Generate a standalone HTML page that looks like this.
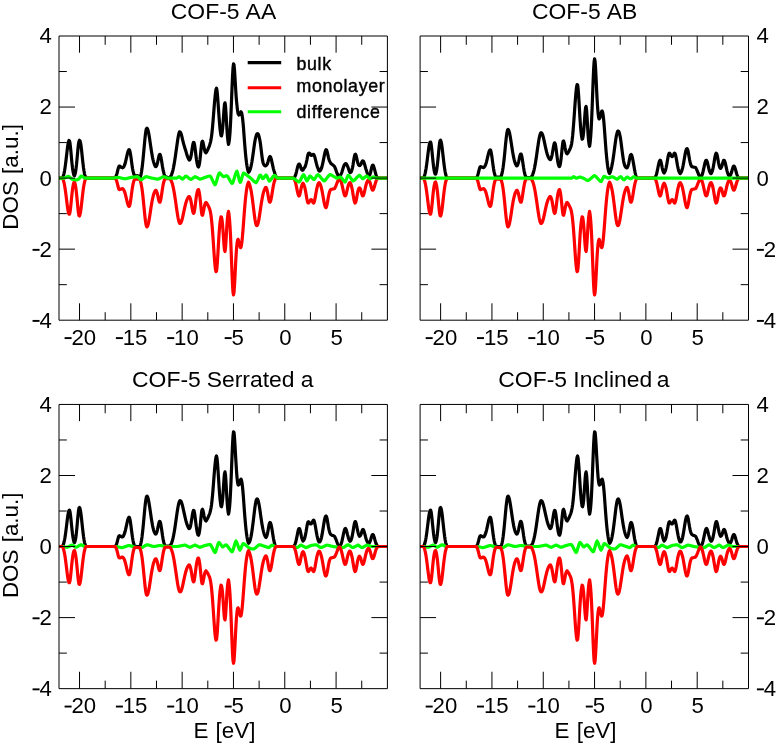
<!DOCTYPE html>
<html><head><meta charset="utf-8"><title>DOS</title>
<style>
html,body{margin:0;padding:0;background:#fff;}
body{width:778px;height:745px;overflow:hidden;font-family:"Liberation Sans",sans-serif;}
svg{display:block;position:absolute;left:0;top:0;will-change:transform;}
text{font-family:"Liberation Sans",sans-serif;fill:#000;}
.tk{font-size:22.2px;}
.ti{font-size:22.9px;word-spacing:1.0px;}
.ax{font-size:22.4px;word-spacing:1px;}
.lg{font-size:17.8px;letter-spacing:0.62px;stroke:#000;stroke-width:0.4px;}
.c{fill:none;stroke-width:3.2;stroke-linejoin:round;stroke-linecap:butt;}
.f{stroke:#000;stroke-width:1;fill:none;}
</style></head><body>
<svg width="778" height="745" viewBox="0 0 778 745">
<rect x="0" y="0" width="778" height="745" fill="#fff"/>

<clipPath id="cp0_0"><rect x="59.0" y="36.0" width="328.4" height="284.2"/></clipPath>
<g clip-path="url(#cp0_0)">
<path class="c" stroke="#000" d="M59.0 178.1 L59.5 178.1 L60.0 178.1 L60.5 178.1 L61.0 178.1 L61.5 178.1 L62.0 178.1 L62.5 177.8 L63.0 176.8 L63.5 175.4 L64.0 173.6 L64.5 171.1 L65.0 168.0 L65.5 164.4 L66.0 160.3 L66.5 156.0 L67.0 151.6 L67.5 147.5 L68.0 144.1 L68.5 141.6 L69.0 140.5 L69.5 140.9 L70.0 143.2 L70.5 147.4 L71.0 152.7 L71.5 158.3 L72.0 163.6 L72.5 167.9 L73.0 171.3 L73.5 173.8 L74.0 175.4 L74.5 175.7 L75.0 174.3 L75.5 172.1 L76.0 168.9 L76.5 164.7 L77.0 159.4 L77.5 153.8 L78.0 148.3 L78.5 143.9 L79.0 141.2 L79.5 140.3 L80.0 140.8 L80.5 142.6 L81.0 145.5 L81.5 149.6 L82.0 154.4 L82.5 159.1 L83.0 163.6 L83.5 167.7 L84.0 171.0 L84.5 173.8 L85.0 175.8 L85.5 177.2 L86.0 178.1 L86.5 178.1 L87.0 178.1 L87.5 178.1 L88.0 178.1 L88.5 178.1 L89.0 178.1 L89.5 178.1 L90.0 178.1 L90.5 178.1 L91.0 178.1 L91.5 178.1 L92.0 178.1 L92.5 178.1 L93.0 178.1 L93.5 178.1 L94.0 178.1 L94.5 178.1 L95.0 178.1 L95.5 178.1 L96.0 178.1 L96.5 178.1 L97.0 178.1 L97.5 178.1 L98.0 178.1 L98.5 178.1 L99.0 178.1 L99.5 178.1 L100.0 178.1 L100.5 178.1 L101.0 178.1 L101.5 178.1 L102.0 178.1 L102.5 178.1 L103.0 178.1 L103.5 178.1 L104.0 178.1 L104.5 178.1 L105.0 178.1 L105.5 178.1 L106.0 178.1 L106.5 178.1 L107.0 178.1 L107.5 178.1 L108.0 178.1 L108.5 178.1 L109.0 178.1 L109.5 178.1 L110.0 178.1 L110.5 178.1 L111.0 178.1 L111.5 178.1 L112.0 178.1 L112.5 178.1 L113.0 178.1 L113.5 178.1 L114.0 178.0 L114.5 177.9 L115.0 177.8 L115.5 177.3 L116.0 176.4 L116.5 175.1 L117.0 173.4 L117.5 171.3 L118.0 169.2 L118.5 167.5 L119.0 166.3 L119.5 166.1 L120.0 166.3 L120.5 166.7 L121.0 167.0 L121.5 167.4 L122.0 167.6 L122.5 167.8 L123.0 167.6 L123.5 167.1 L124.0 166.3 L124.5 165.3 L125.0 163.9 L125.5 162.0 L126.0 159.9 L126.5 157.7 L127.0 155.4 L127.5 153.3 L128.0 151.5 L128.5 150.2 L129.0 149.6 L129.5 149.9 L130.0 151.5 L130.5 154.2 L131.0 157.6 L131.5 161.3 L132.0 165.0 L132.5 168.2 L133.0 170.9 L133.5 173.0 L134.0 174.5 L134.5 175.5 L135.0 175.9 L135.5 175.8 L136.0 175.8 L136.5 175.8 L137.0 175.7 L137.5 175.7 L138.0 175.9 L138.5 176.3 L139.0 176.9 L139.5 177.5 L140.0 177.3 L140.5 176.4 L141.0 174.7 L141.5 172.0 L142.0 168.6 L142.5 164.5 L143.0 159.7 L143.5 154.4 L144.0 148.9 L144.5 143.3 L145.0 138.1 L145.5 133.7 L146.0 130.3 L146.5 128.5 L147.0 128.2 L147.5 128.8 L148.0 130.2 L148.5 132.3 L149.0 135.0 L149.5 138.1 L150.0 141.4 L150.5 144.9 L151.0 148.3 L151.5 151.6 L152.0 154.6 L152.5 157.3 L153.0 159.6 L153.5 161.6 L154.0 163.3 L154.5 164.7 L155.0 165.7 L155.5 166.6 L156.0 166.6 L156.5 165.9 L157.0 164.6 L157.5 162.8 L158.0 160.5 L158.5 158.0 L159.0 155.8 L159.5 154.5 L160.0 154.4 L160.5 155.5 L161.0 157.6 L161.5 160.4 L162.0 163.6 L162.5 166.7 L163.0 169.4 L163.5 171.7 L164.0 173.7 L164.5 175.2 L165.0 176.2 L165.5 176.7 L166.0 176.9 L166.5 177.1 L167.0 177.3 L167.5 177.4 L168.0 177.5 L168.5 177.5 L169.0 177.5 L169.5 177.5 L170.0 177.5 L170.5 176.8 L171.0 175.9 L171.5 174.8 L172.0 173.4 L172.5 171.8 L173.0 169.8 L173.5 167.5 L174.0 164.9 L174.5 161.9 L175.0 158.7 L175.5 155.4 L176.0 151.8 L176.5 148.3 L177.0 144.7 L177.5 141.2 L178.0 138.0 L178.5 135.2 L179.0 133.1 L179.5 131.9 L180.0 131.8 L180.5 132.3 L181.0 133.5 L181.5 135.1 L182.0 137.1 L182.5 139.4 L183.0 141.4 L183.5 143.3 L184.0 145.1 L184.5 146.8 L185.0 148.4 L185.5 150.0 L186.0 151.6 L186.5 153.4 L187.0 155.0 L187.5 156.5 L188.0 157.8 L188.5 158.9 L189.0 159.9 L189.5 160.1 L190.0 159.5 L190.5 158.2 L191.0 156.2 L191.5 153.2 L192.0 149.8 L192.5 146.4 L193.0 143.8 L193.5 142.4 L194.0 142.6 L194.5 144.5 L195.0 147.7 L195.5 151.8 L196.0 156.0 L196.5 159.7 L197.0 162.8 L197.5 165.0 L198.0 166.6 L198.5 167.0 L199.0 165.7 L199.5 163.3 L200.0 159.7 L200.5 154.8 L201.0 149.5 L201.5 144.8 L202.0 141.8 L202.5 141.2 L203.0 142.4 L203.5 144.8 L204.0 147.4 L204.5 149.8 L205.0 151.5 L205.5 152.5 L206.0 152.8 L206.5 152.1 L207.0 151.2 L207.5 150.2 L208.0 149.1 L208.5 148.0 L209.0 146.8 L209.5 145.6 L210.0 143.9 L210.5 142.1 L211.0 139.7 L211.5 136.6 L212.0 132.5 L212.5 127.5 L213.0 121.7 L213.5 115.4 L214.0 108.8 L214.5 102.7 L215.0 97.5 L215.5 92.7 L216.0 89.3 L216.5 88.2 L217.0 90.4 L217.5 95.3 L218.0 102.0 L218.5 109.4 L219.0 116.4 L219.5 122.8 L220.0 128.5 L220.5 132.6 L221.0 135.6 L221.5 135.9 L222.0 133.7 L222.5 129.8 L223.0 124.0 L223.5 116.8 L224.0 109.4 L224.5 104.3 L225.0 102.8 L225.5 106.1 L226.0 113.1 L226.5 121.8 L227.0 130.1 L227.5 136.8 L228.0 141.5 L228.5 144.5 L229.0 142.4 L229.5 138.6 L230.0 132.6 L230.5 124.1 L231.0 113.3 L231.5 101.0 L232.0 88.4 L232.5 76.8 L233.0 68.0 L233.5 63.9 L234.0 64.8 L234.5 69.9 L235.0 77.8 L235.5 86.5 L236.0 94.5 L236.5 100.8 L237.0 105.6 L237.5 110.3 L238.0 113.3 L238.5 114.5 L239.0 115.0 L239.5 114.7 L240.0 113.9 L240.5 112.6 L241.0 111.8 L241.5 112.4 L242.0 114.5 L242.5 117.9 L243.0 122.4 L243.5 128.0 L244.0 134.9 L244.5 141.6 L245.0 147.9 L245.5 153.6 L246.0 158.5 L246.5 162.7 L247.0 166.1 L247.5 168.8 L248.0 171.0 L248.5 172.3 L249.0 171.8 L249.5 171.0 L250.0 169.9 L250.5 168.3 L251.0 166.4 L251.5 164.0 L252.0 161.3 L252.5 158.1 L253.0 154.6 L253.5 151.0 L254.0 147.3 L254.5 143.8 L255.0 140.7 L255.5 138.2 L256.0 136.4 L256.5 134.8 L257.0 133.9 L257.5 133.6 L258.0 133.9 L258.5 134.8 L259.0 136.4 L259.5 138.5 L260.0 141.0 L260.5 144.3 L261.0 148.4 L261.5 152.5 L262.0 156.5 L262.5 159.9 L263.0 162.4 L263.5 163.9 L264.0 164.9 L264.5 165.5 L265.0 165.8 L265.5 165.9 L266.0 165.6 L266.5 165.2 L267.0 164.6 L267.5 163.5 L268.0 161.9 L268.5 160.0 L269.0 158.3 L269.5 157.1 L270.0 156.5 L270.5 156.9 L271.0 158.2 L271.5 160.0 L272.0 162.3 L272.5 164.7 L273.0 167.0 L273.5 169.1 L274.0 170.8 L274.5 172.3 L275.0 174.0 L275.5 175.4 L276.0 176.7 L276.5 177.3 L277.0 177.8 L277.5 178.1 L278.0 178.1 L278.5 178.1 L279.0 178.1 L279.5 178.1 L280.0 178.1 L280.5 178.1 L281.0 178.1 L281.5 178.1 L282.0 178.1 L282.5 178.1 L283.0 178.1 L283.5 178.1 L284.0 178.1 L284.5 178.1 L285.0 178.1 L285.5 178.1 L286.0 178.1 L286.5 178.1 L287.0 178.1 L287.5 178.1 L288.0 178.1 L288.5 178.1 L289.0 178.1 L289.5 178.1 L290.0 178.1 L290.5 178.1 L291.0 178.1 L291.5 178.1 L292.0 178.1 L292.5 178.1 L293.0 178.1 L293.5 178.1 L294.0 177.9 L294.5 177.3 L295.0 176.4 L295.5 175.2 L296.0 173.5 L296.5 171.6 L297.0 169.5 L297.5 167.4 L298.0 165.7 L298.5 164.5 L299.0 164.1 L299.5 164.1 L300.0 165.1 L300.5 166.6 L301.0 168.2 L301.5 169.4 L302.0 170.1 L302.5 170.3 L303.0 170.1 L303.5 168.9 L304.0 168.3 L304.5 167.7 L305.0 166.9 L305.5 165.6 L306.0 163.9 L306.5 161.8 L307.0 159.5 L307.5 156.7 L308.0 154.6 L308.5 153.4 L309.0 153.1 L309.5 153.3 L310.0 153.6 L310.5 154.5 L311.0 155.2 L311.5 155.4 L312.0 155.3 L312.5 154.8 L313.0 154.3 L313.5 154.3 L314.0 155.0 L314.5 156.1 L315.0 157.7 L315.5 159.8 L316.0 161.9 L316.5 163.9 L317.0 165.7 L317.5 167.1 L318.0 168.4 L318.5 169.8 L319.0 170.9 L319.5 171.1 L320.0 170.8 L320.5 170.3 L321.0 169.4 L321.5 168.2 L322.0 166.5 L322.5 164.4 L323.0 162.1 L323.5 159.6 L324.0 157.1 L324.5 154.6 L325.0 152.3 L325.5 150.6 L326.0 149.7 L326.5 149.9 L327.0 151.2 L327.5 153.2 L328.0 155.4 L328.5 157.6 L329.0 159.5 L329.5 160.9 L330.0 161.9 L330.5 162.9 L331.0 163.6 L331.5 163.9 L332.0 164.3 L332.5 164.7 L333.0 165.1 L333.5 165.5 L334.0 165.9 L334.5 166.5 L335.0 167.6 L335.5 168.9 L336.0 170.3 L336.5 171.7 L337.0 173.2 L337.5 174.3 L338.0 175.3 L338.5 176.2 L339.0 176.8 L339.5 176.8 L340.0 176.1 L340.5 175.1 L341.0 174.2 L341.5 173.1 L342.0 171.8 L342.5 170.2 L343.0 168.6 L343.5 166.9 L344.0 165.5 L344.5 164.6 L345.0 164.2 L345.5 163.6 L346.0 163.6 L346.5 164.2 L347.0 165.1 L347.5 166.2 L348.0 167.3 L348.5 168.7 L349.0 170.3 L349.5 171.6 L350.0 172.6 L350.5 172.5 L351.0 172.1 L351.5 171.2 L352.0 169.7 L352.5 167.6 L353.0 165.0 L353.5 161.8 L354.0 158.6 L354.5 156.1 L355.0 154.6 L355.5 154.2 L356.0 155.2 L356.5 157.1 L357.0 159.5 L357.5 161.7 L358.0 163.5 L358.5 164.7 L359.0 165.4 L359.5 165.6 L360.0 165.4 L360.5 164.9 L361.0 164.1 L361.5 162.8 L362.0 161.6 L362.5 160.9 L363.0 160.9 L363.5 161.3 L364.0 162.4 L364.5 164.0 L365.0 165.8 L365.5 167.6 L366.0 169.3 L366.5 170.7 L367.0 172.3 L367.5 173.7 L368.0 174.9 L368.5 175.7 L369.0 175.7 L369.5 175.3 L370.0 174.4 L370.5 172.6 L371.0 170.4 L371.5 168.2 L372.0 166.3 L372.5 165.2 L373.0 165.1 L373.5 165.9 L374.0 167.4 L374.5 169.2 L375.0 171.2 L375.5 173.1 L376.0 174.7 L376.5 176.1 L377.0 177.1 L377.5 177.7 L378.0 178.1 L378.5 178.1 L379.0 178.1 L379.5 178.1 L380.0 178.1 L380.5 178.1 L381.0 178.1 L381.5 178.1 L382.0 178.1 L382.5 178.1 L383.0 178.1 L383.5 178.1 L384.0 178.1 L384.5 178.1 L385.0 178.1 L385.5 178.1 L386.0 178.1 L386.5 178.1 L387.0 178.1"/>
<path class="c" stroke="#f00" d="M59.0 178.1 L59.5 178.1 L60.0 178.1 L60.5 178.1 L61.0 178.1 L61.5 178.1 L62.0 178.1 L62.5 178.4 L63.0 179.4 L63.5 180.8 L64.0 182.6 L64.5 185.0 L65.0 187.9 L65.5 191.3 L66.0 195.1 L66.5 199.2 L67.0 203.3 L67.5 207.2 L68.0 210.4 L68.5 212.9 L69.0 214.2 L69.5 214.2 L70.0 212.3 L70.5 208.6 L71.0 203.8 L71.5 198.6 L72.0 193.7 L72.5 189.4 L73.0 186.1 L73.5 183.8 L74.0 182.2 L74.5 182.0 L75.0 183.5 L75.5 185.8 L76.0 189.1 L76.5 193.3 L77.0 198.4 L77.5 203.9 L78.0 209.1 L78.5 213.3 L79.0 215.7 L79.5 216.0 L80.0 214.7 L80.5 212.2 L81.0 208.7 L81.5 204.5 L82.0 200.0 L82.5 195.6 L83.0 191.4 L83.5 187.8 L84.0 184.7 L84.5 182.2 L85.0 180.4 L85.5 179.0 L86.0 178.1 L86.5 178.1 L87.0 178.1 L87.5 178.1 L88.0 178.1 L88.5 178.1 L89.0 178.1 L89.5 178.1 L90.0 178.1 L90.5 178.1 L91.0 178.1 L91.5 178.1 L92.0 178.1 L92.5 178.1 L93.0 178.1 L93.5 178.1 L94.0 178.1 L94.5 178.1 L95.0 178.1 L95.5 178.1 L96.0 178.1 L96.5 178.1 L97.0 178.1 L97.5 178.1 L98.0 178.1 L98.5 178.1 L99.0 178.1 L99.5 178.1 L100.0 178.1 L100.5 178.1 L101.0 178.1 L101.5 178.1 L102.0 178.1 L102.5 178.1 L103.0 178.1 L103.5 178.1 L104.0 178.1 L104.5 178.1 L105.0 178.1 L105.5 178.1 L106.0 178.1 L106.5 178.1 L107.0 178.1 L107.5 178.1 L108.0 178.1 L108.5 178.1 L109.0 178.1 L109.5 178.1 L110.0 178.1 L110.5 178.1 L111.0 178.1 L111.5 178.1 L112.0 178.1 L112.5 178.1 L113.0 178.1 L113.5 178.1 L114.0 178.1 L114.5 178.1 L115.0 178.1 L115.5 178.6 L116.0 179.4 L116.5 180.6 L117.0 182.2 L117.5 184.2 L118.0 186.3 L118.5 188.1 L119.0 189.3 L119.5 189.6 L120.0 189.5 L120.5 189.3 L121.0 189.0 L121.5 188.8 L122.0 188.7 L122.5 188.6 L123.0 189.0 L123.5 189.6 L124.0 190.4 L124.5 191.6 L125.0 193.0 L125.5 194.8 L126.0 196.8 L126.5 199.0 L127.0 201.1 L127.5 203.1 L128.0 204.8 L128.5 205.9 L129.0 206.4 L129.5 206.0 L130.0 204.2 L130.5 201.4 L131.0 197.9 L131.5 194.1 L132.0 190.4 L132.5 187.1 L133.0 184.3 L133.5 182.2 L134.0 180.6 L134.5 179.6 L135.0 179.1 L135.5 179.1 L136.0 179.1 L136.5 179.1 L137.0 179.1 L137.5 179.1 L138.0 179.1 L138.5 179.1 L139.0 179.1 L139.5 179.1 L140.0 179.9 L140.5 181.3 L141.0 183.2 L141.5 185.7 L142.0 188.8 L142.5 192.6 L143.0 197.0 L143.5 201.9 L144.0 207.1 L144.5 212.3 L145.0 217.1 L145.5 221.3 L146.0 224.4 L146.5 226.3 L147.0 226.8 L147.5 226.2 L148.0 224.9 L148.5 223.0 L149.0 220.4 L149.5 217.5 L150.0 214.3 L150.5 210.9 L151.0 207.6 L151.5 204.5 L152.0 201.6 L152.5 199.0 L153.0 196.8 L153.5 194.9 L154.0 193.3 L154.5 192.1 L155.0 191.1 L155.5 190.3 L156.0 190.4 L156.5 191.2 L157.0 192.5 L157.5 194.4 L158.0 196.7 L158.5 199.1 L159.0 201.1 L159.5 202.2 L160.0 202.1 L160.5 200.7 L161.0 198.3 L161.5 195.2 L162.0 191.8 L162.5 188.4 L163.0 185.5 L163.5 183.0 L164.0 181.2 L164.5 179.8 L165.0 179.0 L165.5 178.7 L166.0 178.7 L166.5 178.7 L167.0 178.7 L167.5 178.7 L168.0 178.7 L168.5 178.7 L169.0 178.7 L169.5 178.7 L170.0 178.7 L170.5 179.4 L171.0 180.3 L171.5 181.4 L172.0 182.8 L172.5 184.4 L173.0 186.4 L173.5 188.7 L174.0 191.3 L174.5 194.3 L175.0 197.5 L175.5 200.8 L176.0 204.4 L176.5 207.9 L177.0 211.3 L177.5 214.6 L178.0 217.5 L178.5 219.9 L179.0 221.8 L179.5 223.0 L180.0 223.5 L180.5 223.3 L181.0 222.6 L181.5 221.4 L182.0 219.8 L182.5 217.8 L183.0 215.6 L183.5 213.3 L184.0 210.9 L184.5 208.6 L185.0 206.4 L185.5 204.3 L186.0 202.5 L186.5 201.0 L187.0 199.6 L187.5 198.6 L188.0 197.7 L188.5 197.0 L189.0 196.5 L189.5 196.7 L190.0 197.7 L190.5 199.2 L191.0 201.4 L191.5 204.2 L192.0 207.2 L192.5 210.2 L193.0 212.4 L193.5 213.4 L194.0 212.8 L194.5 210.6 L195.0 207.2 L195.5 203.1 L196.0 199.1 L196.5 195.6 L197.0 192.9 L197.5 191.0 L198.0 189.7 L198.5 189.6 L199.0 191.2 L199.5 193.8 L200.0 197.6 L200.5 202.4 L201.0 207.6 L201.5 212.1 L202.0 214.9 L202.5 215.3 L203.0 213.8 L203.5 211.3 L204.0 208.4 L204.5 205.9 L205.0 204.0 L205.5 202.8 L206.0 202.4 L206.5 202.9 L207.0 203.6 L207.5 204.5 L208.0 205.4 L208.5 206.4 L209.0 207.5 L209.5 208.6 L210.0 210.2 L210.5 212.4 L211.0 215.5 L211.5 219.6 L212.0 224.7 L212.5 230.7 L213.0 237.7 L213.5 245.1 L214.0 252.6 L214.5 259.5 L215.0 265.4 L215.5 269.5 L216.0 271.6 L216.5 271.1 L217.0 267.2 L217.5 260.5 L218.0 252.1 L218.5 243.2 L219.0 235.0 L219.5 228.1 L220.0 222.9 L220.5 219.2 L221.0 216.8 L221.5 217.1 L222.0 219.8 L222.5 224.2 L223.0 230.5 L223.5 238.0 L224.0 245.2 L224.5 250.2 L225.0 251.5 L225.5 248.0 L226.0 240.8 L226.5 232.0 L227.0 223.8 L227.5 217.6 L228.0 213.6 L228.5 211.4 L229.0 214.4 L229.5 219.1 L230.0 226.0 L230.5 235.4 L231.0 247.0 L231.5 260.0 L232.0 273.1 L232.5 284.4 L233.0 292.2 L233.5 294.9 L234.0 292.4 L234.5 285.7 L235.0 276.1 L235.5 265.8 L236.0 256.5 L236.5 249.0 L237.0 243.7 L237.5 240.4 L238.0 239.3 L238.5 240.2 L239.0 241.9 L239.5 244.2 L240.0 246.5 L240.5 247.7 L241.0 247.1 L241.5 244.8 L242.0 241.0 L242.5 235.9 L243.0 229.8 L243.5 223.3 L244.0 216.5 L244.5 210.0 L245.0 204.0 L245.5 198.7 L246.0 194.1 L246.5 190.3 L247.0 187.2 L247.5 184.9 L248.0 183.2 L248.5 182.2 L249.0 183.1 L249.5 184.3 L250.0 185.8 L250.5 187.8 L251.0 190.1 L251.5 193.0 L252.0 196.2 L252.5 199.9 L253.0 203.9 L253.5 208.0 L254.0 212.1 L254.5 216.0 L255.0 219.5 L255.5 222.3 L256.0 224.4 L256.5 225.5 L257.0 225.6 L257.5 224.9 L258.0 223.5 L258.5 221.4 L259.0 218.7 L259.5 215.7 L260.0 212.3 L260.5 208.9 L261.0 205.6 L261.5 202.3 L262.0 199.4 L262.5 196.7 L263.0 194.4 L263.5 192.4 L264.0 190.7 L264.5 189.4 L265.0 188.4 L265.5 187.6 L266.0 187.4 L266.5 188.3 L267.0 189.8 L267.5 192.0 L268.0 194.8 L268.5 197.8 L269.0 200.4 L269.5 202.0 L270.0 202.2 L270.5 201.3 L271.0 199.4 L271.5 196.9 L272.0 193.9 L272.5 190.8 L273.0 187.8 L273.5 185.1 L274.0 182.9 L274.5 181.1 L275.0 179.7 L275.5 178.8 L276.0 178.1 L276.5 178.1 L277.0 178.1 L277.5 178.1 L278.0 178.1 L278.5 178.1 L279.0 178.1 L279.5 178.1 L280.0 178.1 L280.5 178.1 L281.0 178.1 L281.5 178.1 L282.0 178.1 L282.5 178.1 L283.0 178.1 L283.5 178.1 L284.0 178.1 L284.5 178.1 L285.0 178.1 L285.5 178.1 L286.0 178.1 L286.5 178.1 L287.0 178.1 L287.5 178.1 L288.0 178.1 L288.5 178.1 L289.0 178.1 L289.5 178.1 L290.0 178.1 L290.5 178.1 L291.0 178.1 L291.5 178.1 L292.0 178.1 L292.5 178.1 L293.0 178.1 L293.5 178.2 L294.0 178.8 L294.5 179.7 L295.0 180.9 L295.5 182.5 L296.0 184.6 L296.5 186.9 L297.0 189.4 L297.5 191.8 L298.0 193.9 L298.5 195.3 L299.0 196.0 L299.5 195.6 L300.0 193.9 L300.5 191.5 L301.0 188.9 L301.5 186.6 L302.0 184.9 L302.5 183.8 L303.0 183.2 L303.5 183.9 L304.0 184.9 L304.5 186.4 L305.0 188.4 L305.5 190.8 L306.0 193.7 L306.5 196.7 L307.0 199.5 L307.5 201.6 L308.0 202.9 L308.5 203.0 L309.0 202.4 L309.5 201.4 L310.0 200.5 L310.5 199.9 L311.0 199.6 L311.5 199.9 L312.0 200.6 L312.5 201.6 L313.0 202.7 L313.5 203.1 L314.0 202.6 L314.5 201.0 L315.0 198.7 L315.5 195.9 L316.0 193.0 L316.5 190.2 L317.0 187.8 L317.5 185.8 L318.0 184.3 L318.5 183.3 L319.0 182.6 L319.5 183.0 L320.0 183.8 L320.5 184.9 L321.0 186.4 L321.5 188.3 L322.0 190.6 L322.5 193.2 L323.0 196.1 L323.5 199.0 L324.0 201.8 L324.5 204.3 L325.0 206.2 L325.5 207.3 L326.0 207.6 L326.5 206.7 L327.0 204.8 L327.5 202.1 L328.0 199.2 L328.5 196.4 L329.0 194.0 L329.5 192.1 L330.0 190.7 L330.5 189.9 L331.0 189.4 L331.5 189.3 L332.0 189.2 L332.5 189.1 L333.0 189.0 L333.5 188.9 L334.0 188.8 L334.5 188.6 L335.0 187.8 L335.5 186.8 L336.0 185.6 L336.5 184.3 L337.0 183.0 L337.5 181.8 L338.0 180.6 L338.5 179.6 L339.0 178.8 L339.5 178.6 L340.0 179.2 L340.5 180.1 L341.0 181.3 L341.5 182.9 L342.0 184.8 L342.5 187.0 L343.0 189.4 L343.5 191.7 L344.0 193.7 L344.5 195.2 L345.0 195.9 L345.5 195.8 L346.0 194.8 L346.5 192.9 L347.0 190.7 L347.5 188.5 L348.0 186.4 L348.5 184.8 L349.0 183.7 L349.5 182.9 L350.0 182.6 L350.5 183.4 L351.0 184.5 L351.5 186.1 L352.0 188.3 L352.5 191.0 L353.0 194.0 L353.5 197.1 L354.0 199.9 L354.5 201.9 L355.0 203.0 L355.5 202.8 L356.0 201.3 L356.5 198.9 L357.0 196.0 L357.5 193.2 L358.0 190.9 L358.5 189.3 L359.0 188.2 L359.5 187.8 L360.0 188.3 L360.5 189.3 L361.0 190.9 L361.5 192.8 L362.0 194.6 L362.5 195.8 L363.0 195.9 L363.5 195.2 L364.0 193.7 L364.5 191.7 L365.0 189.5 L365.5 187.2 L366.0 185.1 L366.5 183.4 L367.0 182.0 L367.5 181.0 L368.0 180.3 L368.5 180.0 L369.0 180.5 L369.5 181.3 L370.0 182.5 L370.5 184.1 L371.0 186.0 L371.5 187.8 L372.0 189.3 L372.5 190.1 L373.0 190.1 L373.5 189.3 L374.0 188.0 L374.5 186.3 L375.0 184.5 L375.5 182.7 L376.0 181.2 L376.5 180.0 L377.0 179.1 L377.5 178.5 L378.0 178.1 L378.5 178.1 L379.0 178.1 L379.5 178.1 L380.0 178.1 L380.5 178.1 L381.0 178.1 L381.5 178.1 L382.0 178.1 L382.5 178.1 L383.0 178.1 L383.5 178.1 L384.0 178.1 L384.5 178.1 L385.0 178.1 L385.5 178.1 L386.0 178.1 L386.5 178.1 L387.0 178.1"/>
<path class="c" stroke="#0f0" d="M59.0 178.1 L59.5 178.1 L60.0 178.1 L60.5 178.1 L61.0 178.1 L61.5 178.1 L62.0 178.1 L62.5 178.1 L63.0 178.1 L63.5 178.1 L64.0 178.1 L64.5 178.0 L65.0 177.8 L65.5 177.6 L66.0 177.3 L66.5 177.1 L67.0 176.9 L67.5 176.6 L68.0 176.5 L68.5 176.3 L69.0 176.6 L69.5 177.0 L70.0 177.4 L70.5 177.9 L71.0 178.4 L71.5 178.8 L72.0 179.2 L72.5 179.3 L73.0 179.4 L73.5 179.5 L74.0 179.6 L74.5 179.6 L75.0 179.7 L75.5 179.8 L76.0 179.8 L76.5 179.9 L77.0 179.7 L77.5 179.6 L78.0 179.3 L78.5 179.1 L79.0 178.8 L79.5 178.2 L80.0 177.5 L80.5 176.7 L81.0 176.1 L81.5 176.1 L82.0 176.3 L82.5 176.6 L83.0 177.0 L83.5 177.3 L84.0 177.6 L84.5 177.9 L85.0 178.1 L85.5 178.1 L86.0 178.1 L86.5 178.1 L87.0 178.1 L87.5 178.1 L88.0 178.1 L88.5 178.1 L89.0 178.1 L89.5 178.1 L90.0 178.1 L90.5 178.1 L91.0 178.1 L91.5 178.1 L92.0 178.1 L92.5 178.1 L93.0 178.1 L93.5 178.1 L94.0 178.1 L94.5 178.1 L95.0 178.1 L95.5 178.1 L96.0 178.1 L96.5 178.1 L97.0 178.1 L97.5 178.1 L98.0 178.1 L98.5 178.1 L99.0 178.1 L99.5 178.1 L100.0 178.1 L100.5 178.1 L101.0 178.1 L101.5 178.1 L102.0 178.1 L102.5 178.1 L103.0 178.1 L103.5 178.1 L104.0 178.1 L104.5 178.1 L105.0 178.1 L105.5 178.1 L106.0 178.1 L106.5 178.1 L107.0 178.1 L107.5 178.1 L108.0 178.1 L108.5 178.1 L109.0 178.1 L109.5 178.1 L110.0 178.1 L110.5 178.1 L111.0 178.1 L111.5 178.1 L112.0 178.1 L112.5 178.1 L113.0 178.1 L113.5 178.1 L114.0 178.0 L114.5 177.9 L115.0 177.8 L115.5 177.7 L116.0 177.7 L116.5 177.6 L117.0 177.5 L117.5 177.4 L118.0 177.4 L118.5 177.5 L119.0 177.5 L119.5 177.6 L120.0 177.7 L120.5 177.9 L121.0 178.0 L121.5 178.1 L122.0 178.2 L122.5 178.3 L123.0 178.5 L123.5 178.6 L124.0 178.7 L124.5 178.7 L125.0 178.8 L125.5 178.7 L126.0 178.6 L126.5 178.5 L127.0 178.4 L127.5 178.3 L128.0 178.2 L128.5 178.0 L129.0 177.9 L129.5 177.7 L130.0 177.6 L130.5 177.5 L131.0 177.4 L131.5 177.3 L132.0 177.3 L132.5 177.2 L133.0 177.1 L133.5 177.1 L134.0 177.0 L134.5 177.0 L135.0 176.9 L135.5 176.8 L136.0 176.8 L136.5 176.8 L137.0 176.7 L137.5 176.7 L138.0 176.9 L138.5 177.3 L139.0 177.9 L139.5 178.5 L140.0 179.1 L140.5 179.6 L141.0 179.8 L141.5 179.6 L142.0 179.3 L142.5 179.0 L143.0 178.6 L143.5 178.2 L144.0 177.9 L144.5 177.5 L145.0 177.2 L145.5 176.9 L146.0 176.7 L146.5 176.7 L147.0 176.8 L147.5 176.9 L148.0 177.1 L148.5 177.2 L149.0 177.3 L149.5 177.5 L150.0 177.6 L150.5 177.7 L151.0 177.9 L151.5 178.0 L152.0 178.1 L152.5 178.2 L153.0 178.3 L153.5 178.4 L154.0 178.5 L154.5 178.6 L155.0 178.7 L155.5 178.8 L156.0 178.9 L156.5 179.0 L157.0 179.1 L157.5 179.1 L158.0 179.2 L158.5 179.0 L159.0 178.8 L159.5 178.6 L160.0 178.3 L160.5 178.1 L161.0 177.8 L161.5 177.5 L162.0 177.2 L162.5 177.0 L163.0 176.8 L163.5 176.7 L164.0 176.8 L164.5 176.9 L165.0 177.1 L165.5 177.3 L166.0 177.5 L166.5 177.7 L167.0 177.9 L167.5 178.0 L168.0 178.1 L168.5 178.1 L169.0 178.1 L169.5 178.1 L170.0 178.1 L170.5 178.1 L171.0 178.1 L171.5 178.1 L172.0 178.1 L172.5 178.1 L173.0 178.1 L173.5 178.1 L174.0 178.1 L174.5 178.1 L175.0 178.1 L175.5 178.1 L176.0 178.1 L176.5 178.1 L177.0 178.0 L177.5 177.7 L178.0 177.4 L178.5 177.0 L179.0 176.7 L179.5 176.8 L180.0 177.1 L180.5 177.6 L181.0 178.0 L181.5 178.5 L182.0 178.8 L182.5 179.1 L183.0 178.9 L183.5 178.4 L184.0 177.9 L184.5 177.3 L185.0 176.7 L185.5 176.2 L186.0 176.0 L186.5 176.3 L187.0 176.6 L187.5 177.0 L188.0 177.4 L188.5 177.8 L189.0 178.3 L189.5 178.7 L190.0 179.0 L190.5 179.3 L191.0 179.5 L191.5 179.2 L192.0 178.9 L192.5 178.5 L193.0 178.1 L193.5 177.7 L194.0 177.3 L194.5 177.0 L195.0 176.7 L195.5 176.8 L196.0 177.0 L196.5 177.3 L197.0 177.6 L197.5 177.9 L198.0 178.2 L198.5 178.5 L199.0 178.7 L199.5 179.0 L200.0 179.1 L200.5 179.1 L201.0 178.9 L201.5 178.8 L202.0 178.6 L202.5 178.4 L203.0 178.2 L203.5 178.0 L204.0 177.8 L204.5 177.6 L205.0 177.4 L205.5 177.2 L206.0 177.1 L206.5 176.9 L207.0 176.8 L207.5 176.6 L208.0 176.4 L208.5 176.3 L209.0 176.2 L209.5 176.1 L210.0 176.0 L210.5 176.4 L211.0 177.1 L211.5 178.1 L212.0 179.1 L212.5 180.2 L213.0 181.3 L213.5 182.4 L214.0 183.3 L214.5 184.1 L215.0 184.8 L215.5 184.1 L216.0 182.8 L216.5 181.3 L217.0 179.5 L217.5 177.7 L218.0 176.0 L218.5 174.5 L219.0 173.3 L219.5 172.9 L220.0 173.2 L220.5 173.7 L221.0 174.3 L221.5 174.8 L222.0 175.4 L222.5 175.9 L223.0 176.4 L223.5 176.7 L224.0 176.6 L224.5 176.4 L225.0 176.2 L225.5 176.0 L226.0 175.8 L226.5 175.7 L227.0 175.8 L227.5 176.3 L228.0 177.0 L228.5 177.8 L229.0 178.7 L229.5 179.6 L230.0 180.5 L230.5 181.4 L231.0 182.2 L231.5 182.9 L232.0 183.4 L232.5 183.1 L233.0 182.0 L233.5 180.7 L234.0 179.1 L234.5 177.5 L235.0 175.8 L235.5 174.2 L236.0 172.8 L236.5 171.7 L237.0 171.2 L237.5 172.6 L238.0 174.5 L238.5 176.6 L239.0 178.8 L239.5 180.8 L240.0 182.3 L240.5 182.2 L241.0 180.8 L241.5 179.2 L242.0 177.4 L242.5 175.6 L243.0 174.2 L243.5 173.1 L244.0 173.3 L244.5 173.6 L245.0 173.8 L245.5 174.2 L246.0 174.5 L246.5 174.9 L247.0 175.2 L247.5 175.6 L248.0 176.0 L248.5 176.4 L249.0 176.8 L249.5 177.2 L250.0 177.6 L250.5 178.0 L251.0 178.4 L251.5 178.9 L252.0 179.4 L252.5 179.9 L253.0 180.4 L253.5 180.8 L254.0 181.3 L254.5 181.7 L255.0 182.1 L255.5 182.4 L256.0 182.7 L256.5 182.2 L257.0 181.4 L257.5 180.4 L258.0 179.3 L258.5 178.1 L259.0 177.0 L259.5 176.0 L260.0 175.2 L260.5 175.1 L261.0 175.8 L261.5 176.8 L262.0 177.7 L262.5 178.5 L263.0 178.7 L263.5 178.2 L264.0 177.5 L264.5 176.8 L265.0 176.1 L265.5 175.4 L266.0 175.0 L266.5 175.4 L267.0 176.3 L267.5 177.4 L268.0 178.6 L268.5 179.7 L269.0 180.6 L269.5 181.1 L270.0 180.7 L270.5 180.1 L271.0 179.5 L271.5 178.8 L272.0 178.1 L272.5 177.4 L273.0 176.7 L273.5 176.1 L274.0 175.6 L274.5 175.3 L275.0 175.6 L275.5 176.1 L276.0 176.7 L276.5 177.3 L277.0 177.8 L277.5 178.1 L278.0 178.1 L278.5 178.1 L279.0 178.1 L279.5 178.1 L280.0 178.1 L280.5 178.1 L281.0 178.1 L281.5 178.1 L282.0 178.1 L282.5 178.1 L283.0 178.1 L283.5 178.1 L284.0 178.1 L284.5 178.1 L285.0 178.1 L285.5 178.1 L286.0 178.1 L286.5 178.1 L287.0 178.1 L287.5 178.1 L288.0 178.1 L288.5 178.1 L289.0 178.1 L289.5 178.1 L290.0 178.1 L290.5 178.1 L291.0 178.1 L291.5 178.1 L292.0 178.1 L292.5 178.1 L293.0 178.1 L293.5 178.3 L294.0 178.6 L294.5 178.9 L295.0 179.2 L295.5 179.6 L296.0 180.0 L296.5 180.4 L297.0 180.8 L297.5 181.2 L298.0 181.5 L298.5 181.8 L299.0 182.0 L299.5 181.6 L300.0 180.9 L300.5 180.0 L301.0 179.0 L301.5 178.0 L302.0 177.0 L302.5 176.0 L303.0 175.2 L303.5 174.6 L304.0 175.1 L304.5 176.0 L305.0 177.1 L305.5 178.3 L306.0 179.5 L306.5 180.4 L307.0 180.9 L307.5 180.2 L308.0 179.3 L308.5 178.4 L309.0 177.4 L309.5 176.5 L310.0 176.0 L310.5 176.3 L311.0 176.7 L311.5 177.2 L312.0 177.8 L312.5 178.4 L313.0 178.9 L313.5 179.3 L314.0 179.5 L314.5 179.0 L315.0 178.3 L315.5 177.6 L316.0 176.8 L316.5 176.0 L317.0 175.3 L317.5 174.8 L318.0 174.7 L318.5 175.0 L319.0 175.4 L319.5 176.0 L320.0 176.5 L320.5 177.1 L321.0 177.7 L321.5 178.4 L322.0 179.0 L322.5 179.5 L323.0 180.0 L323.5 180.5 L324.0 180.8 L324.5 180.8 L325.0 180.3 L325.5 179.8 L326.0 179.2 L326.5 178.6 L327.0 177.9 L327.5 177.2 L328.0 176.5 L328.5 175.9 L329.0 175.4 L329.5 174.9 L330.0 174.5 L330.5 174.7 L331.0 174.9 L331.5 175.1 L332.0 175.4 L332.5 175.7 L333.0 176.0 L333.5 176.3 L334.0 176.6 L334.5 176.9 L335.0 177.2 L335.5 177.5 L336.0 177.7 L336.5 177.9 L337.0 178.1 L337.5 178.0 L338.0 177.8 L338.5 177.7 L339.0 177.5 L339.5 177.3 L340.0 177.1 L340.5 177.0 L341.0 177.4 L341.5 177.9 L342.0 178.5 L342.5 179.2 L343.0 179.9 L343.5 180.5 L344.0 181.1 L344.5 181.6 L345.0 182.0 L345.5 181.3 L346.0 180.2 L346.5 179.0 L347.0 177.7 L347.5 176.6 L348.0 175.6 L348.5 175.4 L349.0 175.8 L349.5 176.4 L350.0 177.1 L350.5 177.8 L351.0 178.5 L351.5 179.3 L352.0 179.9 L352.5 180.5 L353.0 180.9 L353.5 180.7 L354.0 180.4 L354.5 180.0 L355.0 179.5 L355.5 179.0 L356.0 178.4 L356.5 177.9 L357.0 177.3 L357.5 176.8 L358.0 176.3 L358.5 175.9 L359.0 175.5 L359.5 175.3 L360.0 175.6 L360.5 176.2 L361.0 176.8 L361.5 177.5 L362.0 178.1 L362.5 178.6 L363.0 178.7 L363.5 178.4 L364.0 178.0 L364.5 177.6 L365.0 177.1 L365.5 176.7 L366.0 176.3 L366.5 176.0 L367.0 176.2 L367.5 176.6 L368.0 177.1 L368.5 177.6 L369.0 178.1 L369.5 178.5 L370.0 178.8 L370.5 178.6 L371.0 178.3 L371.5 177.9 L372.0 177.6 L372.5 177.2 L373.0 177.0 L373.5 177.1 L374.0 177.3 L374.5 177.4 L375.0 177.6 L375.5 177.7 L376.0 177.9 L376.5 178.0 L377.0 178.1 L377.5 178.1 L378.0 178.1 L378.5 178.1 L379.0 178.1 L379.5 178.1 L380.0 178.1 L380.5 178.1 L381.0 178.1 L381.5 178.1 L382.0 178.1 L382.5 178.1 L383.0 178.1 L383.5 178.1 L384.0 178.1 L384.5 178.1 L385.0 178.1 L385.5 178.1 L386.0 178.1 L386.5 178.1 L387.0 178.1"/>
</g>
<line x1="247.7" x2="281.2" y1="62.6" y2="62.6" stroke="#000" stroke-width="3.1"/>
<text class="lg" x="296.6" y="69.5">bulk</text>
<line x1="247.7" x2="281.2" y1="87.7" y2="87.7" stroke="#f00" stroke-width="3.1"/>
<text class="lg" x="296.6" y="91.8">monolayer</text>
<line x1="247.7" x2="281.2" y1="111.7" y2="111.7" stroke="#0f0" stroke-width="3.1"/>
<text class="lg" x="296.6" y="118.4">difference</text>
<path class="f" d="M59.00 36.00 h328.40 v284.20 h-328.40 Z M79.53 36.00 v16.70 M79.53 320.20 v-16.90 M105.18 36.00 v8.80 M105.18 320.20 v-8.00 M130.84 36.00 v16.70 M130.84 320.20 v-16.90 M156.49 36.00 v8.80 M156.49 320.20 v-8.00 M182.15 36.00 v16.70 M182.15 320.20 v-16.90 M207.81 36.00 v8.80 M207.81 320.20 v-8.00 M233.46 36.00 v16.70 M233.46 320.20 v-16.90 M259.12 36.00 v8.80 M259.12 320.20 v-8.00 M284.77 36.00 v16.70 M284.77 320.20 v-16.90 M310.43 36.00 v8.80 M310.43 320.20 v-8.00 M336.09 36.00 v16.70 M336.09 320.20 v-16.90 M361.74 36.00 v8.80 M361.74 320.20 v-8.00 M59.00 284.67 h7.80 M387.40 284.67 h-7.80 M59.00 249.15 h16.00 M387.40 249.15 h-16.00 M59.00 213.62 h7.80 M387.40 213.62 h-7.80 M59.00 178.10 h16.00 M387.40 178.10 h-16.00 M59.00 142.57 h7.80 M387.40 142.57 h-7.80 M59.00 107.05 h16.00 M387.40 107.05 h-16.00 M59.00 71.53 h7.80 M387.40 71.53 h-7.80"/>
<text class="ti" text-anchor="middle" x="223.5" y="18.9">COF-5 AA</text>
<rect x="64.59" y="337.15" width="7.0" height="1.9" fill="#000"/><text class="tk" x="71.48" y="344.80">20</text>
<rect x="115.90" y="337.15" width="7.0" height="1.9" fill="#000"/><text class="tk" x="122.79" y="344.80">15</text>
<rect x="167.21" y="337.15" width="7.0" height="1.9" fill="#000"/><text class="tk" x="174.10" y="344.80">10</text>
<rect x="224.69" y="337.15" width="7.0" height="1.9" fill="#000"/><text class="tk" x="231.59" y="344.80">5</text>
<text class="tk" x="279.20" y="344.80">0</text>
<text class="tk" x="330.52" y="344.80">5</text>
<rect x="32.56" y="319.95" width="7.0" height="1.9" fill="#000"/><text class="tk" x="39.46" y="327.60">4</text>
<rect x="32.56" y="248.90" width="7.0" height="1.9" fill="#000"/><text class="tk" x="39.46" y="256.55">2</text>
<text class="tk" x="39.46" y="185.50">0</text>
<text class="tk" x="39.46" y="114.45">2</text>
<text class="tk" x="39.46" y="43.40">4</text>
<text class="ax" text-anchor="middle" transform="translate(17.8 176.9) rotate(-90)">DOS [a.u.]</text>
<clipPath id="cp361_0"><rect x="420.1" y="36.0" width="328.4" height="284.2"/></clipPath>
<g clip-path="url(#cp361_0)">
<path class="c" stroke="#000" d="M420.1 178.1 L420.6 178.1 L421.1 178.1 L421.6 178.1 L422.1 178.1 L422.6 178.1 L423.1 178.1 L423.6 177.8 L424.1 176.8 L424.6 175.4 L425.1 173.6 L425.6 171.2 L426.1 168.3 L426.6 164.9 L427.1 161.1 L427.6 157.0 L428.1 152.9 L428.6 149.0 L429.1 145.8 L429.6 143.3 L430.1 142.0 L430.6 142.0 L431.1 143.9 L431.6 147.6 L432.1 152.4 L432.6 157.6 L433.1 162.5 L433.6 166.8 L434.1 170.1 L434.6 172.4 L435.1 174.0 L435.6 174.2 L436.1 172.7 L436.6 170.4 L437.1 167.1 L437.6 162.9 L438.1 157.8 L438.6 152.3 L439.1 147.1 L439.6 142.9 L440.1 140.5 L440.6 140.2 L441.1 141.5 L441.6 144.0 L442.1 147.5 L442.6 151.7 L443.1 156.2 L443.6 160.6 L444.1 164.8 L444.6 168.4 L445.1 171.5 L445.6 174.0 L446.1 175.8 L446.6 177.2 L447.1 178.1 L447.6 178.1 L448.1 178.1 L448.6 178.1 L449.1 178.1 L449.6 178.1 L450.1 178.1 L450.6 178.1 L451.1 178.1 L451.6 178.1 L452.1 178.1 L452.6 178.1 L453.1 178.1 L453.6 178.1 L454.1 178.1 L454.6 178.1 L455.1 178.1 L455.6 178.1 L456.1 178.1 L456.6 178.1 L457.1 178.1 L457.6 178.1 L458.1 178.1 L458.6 178.1 L459.1 178.1 L459.6 178.1 L460.1 178.1 L460.6 178.1 L461.1 178.1 L461.6 178.1 L462.1 178.1 L462.6 178.1 L463.1 178.1 L463.6 178.1 L464.1 178.1 L464.6 178.1 L465.1 178.1 L465.6 178.1 L466.1 178.1 L466.6 178.1 L467.1 178.1 L467.6 178.1 L468.1 178.1 L468.6 178.1 L469.1 178.1 L469.6 178.1 L470.1 178.1 L470.6 178.1 L471.1 178.1 L471.6 178.1 L472.1 178.1 L472.6 178.1 L473.1 178.1 L473.6 178.1 L474.1 178.1 L474.6 178.1 L475.1 178.1 L475.6 178.1 L476.1 178.1 L476.6 177.6 L477.1 176.8 L477.6 175.6 L478.1 174.0 L478.6 172.0 L479.1 169.9 L479.6 168.1 L480.1 166.9 L480.6 166.6 L481.1 166.7 L481.6 166.9 L482.1 167.2 L482.6 167.4 L483.1 167.5 L483.6 167.6 L484.1 167.2 L484.6 166.6 L485.1 165.8 L485.6 164.6 L486.1 163.2 L486.6 161.4 L487.1 159.4 L487.6 157.2 L488.1 155.1 L488.6 153.1 L489.1 151.4 L489.6 150.3 L490.1 149.8 L490.6 150.2 L491.1 152.0 L491.6 154.8 L492.1 158.3 L492.6 162.1 L493.1 165.8 L493.6 169.1 L494.1 171.9 L494.6 174.0 L495.1 175.6 L495.6 176.6 L496.1 177.1 L496.6 177.1 L497.1 177.1 L497.6 177.1 L498.1 177.1 L498.6 177.1 L499.1 177.1 L499.6 177.1 L500.1 177.1 L500.6 177.1 L501.1 176.3 L501.6 174.9 L502.1 173.0 L502.6 170.5 L503.1 167.4 L503.6 163.6 L504.1 159.2 L504.6 154.3 L505.1 149.1 L505.6 143.9 L506.1 139.1 L506.6 134.9 L507.1 131.8 L507.6 129.9 L508.1 129.4 L508.6 130.0 L509.1 131.3 L509.6 133.2 L510.1 135.8 L510.6 138.7 L511.1 141.9 L511.6 145.3 L512.1 148.6 L512.6 151.7 L513.1 154.6 L513.6 157.2 L514.1 159.4 L514.6 161.3 L515.1 162.9 L515.6 164.1 L516.1 165.1 L516.6 165.9 L517.1 165.8 L517.6 165.0 L518.1 163.7 L518.6 161.8 L519.1 159.5 L519.6 157.1 L520.1 155.1 L520.6 154.0 L521.1 154.1 L521.6 155.5 L522.1 157.9 L522.6 161.0 L523.1 164.4 L523.6 167.8 L524.1 170.7 L524.6 173.2 L525.1 175.0 L525.6 176.4 L526.1 177.2 L526.6 177.5 L527.1 177.5 L527.6 177.5 L528.1 177.5 L528.6 177.5 L529.1 177.5 L529.6 177.5 L530.1 177.5 L530.6 177.5 L531.1 177.5 L531.6 176.8 L532.1 175.9 L532.6 174.8 L533.1 173.4 L533.6 171.8 L534.1 169.8 L534.6 167.5 L535.1 164.9 L535.6 161.9 L536.1 158.7 L536.6 155.4 L537.1 151.8 L537.6 148.3 L538.1 144.9 L538.6 141.6 L539.1 138.7 L539.6 136.3 L540.1 134.4 L540.6 133.2 L541.1 132.7 L541.6 132.9 L542.1 133.6 L542.6 134.8 L543.1 136.4 L543.6 138.4 L544.1 140.6 L544.6 142.9 L545.1 145.3 L545.6 147.6 L546.1 149.8 L546.6 151.9 L547.1 153.7 L547.6 155.2 L548.1 156.6 L548.6 157.6 L549.1 158.5 L549.6 159.2 L550.1 159.7 L550.6 159.5 L551.1 158.5 L551.6 157.0 L552.1 154.8 L552.6 152.0 L553.1 149.0 L553.6 146.0 L554.1 143.8 L554.6 142.8 L555.1 143.4 L555.6 145.6 L556.1 149.0 L556.6 153.1 L557.1 157.1 L557.6 160.6 L558.1 163.3 L558.6 165.2 L559.1 166.5 L559.6 166.6 L560.1 165.0 L560.6 162.4 L561.1 158.6 L561.6 153.8 L562.1 148.6 L562.6 144.1 L563.1 141.3 L563.6 140.9 L564.1 142.4 L564.6 144.9 L565.1 147.8 L565.6 150.3 L566.1 152.2 L566.6 153.4 L567.1 153.8 L567.6 153.3 L568.1 152.6 L568.6 151.7 L569.1 150.8 L569.6 149.8 L570.1 148.7 L570.6 147.6 L571.1 146.0 L571.6 143.8 L572.1 140.4 L572.6 136.0 L573.1 130.5 L573.6 124.1 L574.1 117.3 L574.6 110.2 L575.1 103.1 L575.6 96.5 L576.1 90.9 L576.6 86.8 L577.1 84.5 L577.6 84.8 L578.1 88.5 L578.6 95.0 L579.1 103.2 L579.6 111.9 L580.1 120.2 L580.6 127.2 L581.1 132.6 L581.6 136.5 L582.1 139.1 L582.6 139.0 L583.1 136.4 L583.6 132.2 L584.1 126.2 L584.6 119.0 L585.1 112.1 L585.6 107.4 L586.1 106.4 L586.6 110.1 L587.1 117.6 L587.6 126.6 L588.1 134.8 L588.6 140.8 L589.1 144.4 L589.6 146.3 L590.1 142.9 L590.6 137.7 L591.1 130.3 L591.6 120.5 L592.1 108.5 L592.6 95.0 L593.1 81.5 L593.6 69.8 L594.1 61.8 L594.6 58.8 L595.1 61.6 L595.6 68.7 L596.1 78.7 L596.6 89.5 L597.1 99.5 L597.6 107.5 L598.1 113.4 L598.6 117.3 L599.1 118.9 L599.6 118.5 L600.1 117.3 L600.6 115.3 L601.1 113.2 L601.6 111.3 L602.1 110.9 L602.6 112.1 L603.1 114.9 L603.6 119.2 L604.1 124.6 L604.6 131.3 L605.1 138.2 L605.6 145.0 L606.1 151.3 L606.6 156.9 L607.1 161.8 L607.6 165.8 L608.1 169.0 L608.6 171.2 L609.1 172.8 L609.6 173.5 L610.1 172.4 L610.6 171.0 L611.1 169.2 L611.6 167.1 L612.1 164.6 L612.6 162.0 L613.1 158.9 L613.6 155.5 L614.1 151.9 L614.6 148.0 L615.1 144.2 L615.6 140.6 L616.1 137.4 L616.6 134.8 L617.1 132.9 L617.6 131.5 L618.1 131.0 L618.6 131.3 L619.1 132.3 L619.6 134.0 L620.1 136.3 L620.6 139.1 L621.1 142.8 L621.6 146.7 L622.1 150.6 L622.6 154.5 L623.1 158.0 L623.6 161.1 L624.1 163.5 L624.6 165.1 L625.1 166.3 L625.6 167.0 L626.1 167.5 L626.6 167.9 L627.1 167.7 L627.6 167.0 L628.1 165.7 L628.6 163.8 L629.1 161.4 L629.6 158.7 L630.1 156.3 L630.6 154.9 L631.1 154.5 L631.6 155.1 L632.1 156.5 L632.6 158.7 L633.1 161.3 L633.6 164.1 L634.1 167.0 L634.6 169.9 L635.1 172.5 L635.6 174.6 L636.1 176.3 L636.6 177.4 L637.1 178.1 L637.6 178.1 L638.1 178.1 L638.6 178.1 L639.1 178.1 L639.6 178.1 L640.1 178.1 L640.6 178.1 L641.1 178.1 L641.6 178.1 L642.1 178.1 L642.6 178.1 L643.1 178.1 L643.6 178.1 L644.1 178.1 L644.6 178.1 L645.1 178.1 L645.6 178.1 L646.1 178.1 L646.6 178.1 L647.1 178.1 L647.6 178.1 L648.1 178.1 L648.6 178.1 L649.1 178.1 L649.6 178.1 L650.1 178.1 L650.6 178.1 L651.1 178.1 L651.6 178.1 L652.1 178.1 L652.6 178.1 L653.1 178.1 L653.6 178.1 L654.1 178.1 L654.6 178.0 L655.1 177.4 L655.6 176.5 L656.1 175.3 L656.6 173.7 L657.1 171.6 L657.6 169.3 L658.1 166.8 L658.6 164.4 L659.1 162.3 L659.6 160.9 L660.1 160.2 L660.6 160.6 L661.1 162.3 L661.6 164.7 L662.1 167.3 L662.6 169.6 L663.1 171.3 L663.6 172.4 L664.1 173.0 L664.6 172.3 L665.1 171.3 L665.6 169.8 L666.1 167.8 L666.6 165.4 L667.1 162.5 L667.6 159.5 L668.1 156.7 L668.6 154.6 L669.1 153.3 L669.6 153.2 L670.1 153.8 L670.6 154.8 L671.1 155.7 L671.6 156.3 L672.1 156.6 L672.6 156.3 L673.1 155.6 L673.6 154.6 L674.1 153.5 L674.6 153.1 L675.1 153.6 L675.6 155.2 L676.1 157.5 L676.6 160.3 L677.1 163.2 L677.6 166.0 L678.1 168.4 L678.6 170.4 L679.1 171.9 L679.6 172.9 L680.1 173.6 L680.6 173.2 L681.1 172.4 L681.6 171.3 L682.1 169.8 L682.6 167.9 L683.1 165.6 L683.6 163.0 L684.1 160.1 L684.6 157.2 L685.1 154.4 L685.6 151.9 L686.1 150.0 L686.6 148.9 L687.1 148.6 L687.6 149.5 L688.1 151.4 L688.6 154.1 L689.1 157.0 L689.6 159.8 L690.1 162.2 L690.6 164.1 L691.1 165.5 L691.6 166.3 L692.1 166.8 L692.6 166.9 L693.1 167.0 L693.6 167.1 L694.1 167.2 L694.6 167.3 L695.1 167.4 L695.6 167.6 L696.1 168.4 L696.6 169.4 L697.1 170.6 L697.6 171.9 L698.1 173.2 L698.6 174.4 L699.1 175.6 L699.6 176.6 L700.1 177.4 L700.6 177.6 L701.1 177.0 L701.6 176.1 L702.1 174.9 L702.6 173.3 L703.1 171.4 L703.6 169.2 L704.1 166.8 L704.6 164.5 L705.1 162.5 L705.6 161.0 L706.1 160.3 L706.6 160.4 L707.1 161.4 L707.6 163.3 L708.1 165.5 L708.6 167.7 L709.1 169.8 L709.6 171.4 L710.1 172.5 L710.6 173.3 L711.1 173.6 L711.6 172.8 L712.1 171.7 L712.6 170.1 L713.1 167.9 L713.6 165.2 L714.1 162.2 L714.6 159.1 L715.1 156.3 L715.6 154.3 L716.1 153.2 L716.6 153.4 L717.1 154.9 L717.6 157.3 L718.1 160.2 L718.6 163.0 L719.1 165.3 L719.6 166.9 L720.1 168.0 L720.6 168.4 L721.1 167.9 L721.6 166.9 L722.1 165.3 L722.6 163.4 L723.1 161.6 L723.6 160.4 L724.1 160.3 L724.6 161.0 L725.1 162.5 L725.6 164.5 L726.1 166.7 L726.6 169.0 L727.1 171.1 L727.6 172.8 L728.1 174.2 L728.6 175.2 L729.1 175.9 L729.6 176.2 L730.1 175.7 L730.6 174.9 L731.1 173.7 L731.6 172.1 L732.1 170.2 L732.6 168.4 L733.1 166.9 L733.6 166.1 L734.1 166.1 L734.6 166.9 L735.1 168.2 L735.6 169.9 L736.1 171.7 L736.6 173.5 L737.1 175.0 L737.6 176.2 L738.1 177.1 L738.6 177.7 L739.1 178.1 L739.6 178.1 L740.1 178.1 L740.6 178.1 L741.1 178.1 L741.6 178.1 L742.1 178.1 L742.6 178.1 L743.1 178.1 L743.6 178.1 L744.1 178.1 L744.6 178.1 L745.1 178.1 L745.6 178.1 L746.1 178.1 L746.6 178.1 L747.1 178.1 L747.6 178.1 L748.1 178.1"/>
<path class="c" stroke="#f00" d="M420.1 178.1 L420.6 178.1 L421.1 178.1 L421.6 178.1 L422.1 178.1 L422.6 178.1 L423.1 178.1 L423.6 178.4 L424.1 179.4 L424.6 180.8 L425.1 182.6 L425.6 185.0 L426.1 187.9 L426.6 191.3 L427.1 195.1 L427.6 199.2 L428.1 203.3 L428.6 207.2 L429.1 210.4 L429.6 212.9 L430.1 214.2 L430.6 214.2 L431.1 212.3 L431.6 208.6 L432.1 203.8 L432.6 198.6 L433.1 193.7 L433.6 189.4 L434.1 186.1 L434.6 183.8 L435.1 182.2 L435.6 182.0 L436.1 183.5 L436.6 185.8 L437.1 189.1 L437.6 193.3 L438.1 198.4 L438.6 203.9 L439.1 209.1 L439.6 213.3 L440.1 215.7 L440.6 216.0 L441.1 214.7 L441.6 212.2 L442.1 208.7 L442.6 204.5 L443.1 200.0 L443.6 195.6 L444.1 191.4 L444.6 187.8 L445.1 184.7 L445.6 182.2 L446.1 180.4 L446.6 179.0 L447.1 178.1 L447.6 178.1 L448.1 178.1 L448.6 178.1 L449.1 178.1 L449.6 178.1 L450.1 178.1 L450.6 178.1 L451.1 178.1 L451.6 178.1 L452.1 178.1 L452.6 178.1 L453.1 178.1 L453.6 178.1 L454.1 178.1 L454.6 178.1 L455.1 178.1 L455.6 178.1 L456.1 178.1 L456.6 178.1 L457.1 178.1 L457.6 178.1 L458.1 178.1 L458.6 178.1 L459.1 178.1 L459.6 178.1 L460.1 178.1 L460.6 178.1 L461.1 178.1 L461.6 178.1 L462.1 178.1 L462.6 178.1 L463.1 178.1 L463.6 178.1 L464.1 178.1 L464.6 178.1 L465.1 178.1 L465.6 178.1 L466.1 178.1 L466.6 178.1 L467.1 178.1 L467.6 178.1 L468.1 178.1 L468.6 178.1 L469.1 178.1 L469.6 178.1 L470.1 178.1 L470.6 178.1 L471.1 178.1 L471.6 178.1 L472.1 178.1 L472.6 178.1 L473.1 178.1 L473.6 178.1 L474.1 178.1 L474.6 178.1 L475.1 178.1 L475.6 178.1 L476.1 178.1 L476.6 178.6 L477.1 179.4 L477.6 180.6 L478.1 182.2 L478.6 184.2 L479.1 186.3 L479.6 188.1 L480.1 189.3 L480.6 189.6 L481.1 189.5 L481.6 189.3 L482.1 189.0 L482.6 188.8 L483.1 188.7 L483.6 188.6 L484.1 189.0 L484.6 189.6 L485.1 190.4 L485.6 191.6 L486.1 193.0 L486.6 194.8 L487.1 196.8 L487.6 199.0 L488.1 201.1 L488.6 203.1 L489.1 204.8 L489.6 205.9 L490.1 206.4 L490.6 206.0 L491.1 204.2 L491.6 201.4 L492.1 197.9 L492.6 194.1 L493.1 190.4 L493.6 187.1 L494.1 184.3 L494.6 182.2 L495.1 180.6 L495.6 179.6 L496.1 179.1 L496.6 179.1 L497.1 179.1 L497.6 179.1 L498.1 179.1 L498.6 179.1 L499.1 179.1 L499.6 179.1 L500.1 179.1 L500.6 179.1 L501.1 179.9 L501.6 181.3 L502.1 183.2 L502.6 185.7 L503.1 188.8 L503.6 192.6 L504.1 197.0 L504.6 201.9 L505.1 207.1 L505.6 212.3 L506.1 217.1 L506.6 221.3 L507.1 224.4 L507.6 226.3 L508.1 226.8 L508.6 226.2 L509.1 224.9 L509.6 223.0 L510.1 220.4 L510.6 217.5 L511.1 214.3 L511.6 210.9 L512.1 207.6 L512.6 204.5 L513.1 201.6 L513.6 199.0 L514.1 196.8 L514.6 194.9 L515.1 193.3 L515.6 192.1 L516.1 191.1 L516.6 190.3 L517.1 190.4 L517.6 191.2 L518.1 192.5 L518.6 194.4 L519.1 196.7 L519.6 199.1 L520.1 201.1 L520.6 202.2 L521.1 202.1 L521.6 200.7 L522.1 198.3 L522.6 195.2 L523.1 191.8 L523.6 188.4 L524.1 185.5 L524.6 183.0 L525.1 181.2 L525.6 179.8 L526.1 179.0 L526.6 178.7 L527.1 178.7 L527.6 178.7 L528.1 178.7 L528.6 178.7 L529.1 178.7 L529.6 178.7 L530.1 178.7 L530.6 178.7 L531.1 178.7 L531.6 179.4 L532.1 180.3 L532.6 181.4 L533.1 182.8 L533.6 184.4 L534.1 186.4 L534.6 188.7 L535.1 191.3 L535.6 194.3 L536.1 197.5 L536.6 200.8 L537.1 204.4 L537.6 207.9 L538.1 211.3 L538.6 214.6 L539.1 217.5 L539.6 219.9 L540.1 221.8 L540.6 223.0 L541.1 223.5 L541.6 223.3 L542.1 222.6 L542.6 221.4 L543.1 219.8 L543.6 217.8 L544.1 215.6 L544.6 213.3 L545.1 210.9 L545.6 208.6 L546.1 206.4 L546.6 204.3 L547.1 202.5 L547.6 201.0 L548.1 199.6 L548.6 198.6 L549.1 197.7 L549.6 197.0 L550.1 196.5 L550.6 196.7 L551.1 197.7 L551.6 199.2 L552.1 201.4 L552.6 204.2 L553.1 207.2 L553.6 210.2 L554.1 212.4 L554.6 213.4 L555.1 212.8 L555.6 210.6 L556.1 207.2 L556.6 203.1 L557.1 199.1 L557.6 195.6 L558.1 192.9 L558.6 191.0 L559.1 189.7 L559.6 189.6 L560.1 191.2 L560.6 193.8 L561.1 197.6 L561.6 202.4 L562.1 207.6 L562.6 212.1 L563.1 214.9 L563.6 215.3 L564.1 213.8 L564.6 211.3 L565.1 208.4 L565.6 205.9 L566.1 204.0 L566.6 202.8 L567.1 202.4 L567.6 202.9 L568.1 203.6 L568.6 204.5 L569.1 205.4 L569.6 206.4 L570.1 207.5 L570.6 208.6 L571.1 210.2 L571.6 212.4 L572.1 215.5 L572.6 219.6 L573.1 224.7 L573.6 230.7 L574.1 237.7 L574.6 245.1 L575.1 252.6 L575.6 259.5 L576.1 265.4 L576.6 269.5 L577.1 271.6 L577.6 271.1 L578.1 267.2 L578.6 260.5 L579.1 252.1 L579.6 243.2 L580.1 235.0 L580.6 228.1 L581.1 222.9 L581.6 219.2 L582.1 216.8 L582.6 217.1 L583.1 219.8 L583.6 224.2 L584.1 230.5 L584.6 238.0 L585.1 245.2 L585.6 250.2 L586.1 251.5 L586.6 248.0 L587.1 240.8 L587.6 232.0 L588.1 223.8 L588.6 217.6 L589.1 213.6 L589.6 211.4 L590.1 214.4 L590.6 219.1 L591.1 226.0 L591.6 235.4 L592.1 247.0 L592.6 260.0 L593.1 273.1 L593.6 284.4 L594.1 292.2 L594.6 294.9 L595.1 292.4 L595.6 285.7 L596.1 276.1 L596.6 265.8 L597.1 256.5 L597.6 249.0 L598.1 243.7 L598.6 240.4 L599.1 239.3 L599.6 240.2 L600.1 241.9 L600.6 244.2 L601.1 246.5 L601.6 247.7 L602.1 247.1 L602.6 244.8 L603.1 241.0 L603.6 235.9 L604.1 229.8 L604.6 223.3 L605.1 216.5 L605.6 210.0 L606.1 204.0 L606.6 198.7 L607.1 194.1 L607.6 190.3 L608.1 187.2 L608.6 184.9 L609.1 183.2 L609.6 182.2 L610.1 183.1 L610.6 184.3 L611.1 185.8 L611.6 187.8 L612.1 190.1 L612.6 193.0 L613.1 196.2 L613.6 199.9 L614.1 203.9 L614.6 208.0 L615.1 212.1 L615.6 216.0 L616.1 219.5 L616.6 222.3 L617.1 224.4 L617.6 225.5 L618.1 225.6 L618.6 224.9 L619.1 223.5 L619.6 221.4 L620.1 218.7 L620.6 215.7 L621.1 212.3 L621.6 208.9 L622.1 205.6 L622.6 202.3 L623.1 199.4 L623.6 196.7 L624.1 194.4 L624.6 192.4 L625.1 190.7 L625.6 189.4 L626.1 188.4 L626.6 187.6 L627.1 187.4 L627.6 188.3 L628.1 189.8 L628.6 192.0 L629.1 194.8 L629.6 197.8 L630.1 200.4 L630.6 202.0 L631.1 202.2 L631.6 201.3 L632.1 199.4 L632.6 196.9 L633.1 193.9 L633.6 190.8 L634.1 187.8 L634.6 185.1 L635.1 182.9 L635.6 181.1 L636.1 179.7 L636.6 178.8 L637.1 178.1 L637.6 178.1 L638.1 178.1 L638.6 178.1 L639.1 178.1 L639.6 178.1 L640.1 178.1 L640.6 178.1 L641.1 178.1 L641.6 178.1 L642.1 178.1 L642.6 178.1 L643.1 178.1 L643.6 178.1 L644.1 178.1 L644.6 178.1 L645.1 178.1 L645.6 178.1 L646.1 178.1 L646.6 178.1 L647.1 178.1 L647.6 178.1 L648.1 178.1 L648.6 178.1 L649.1 178.1 L649.6 178.1 L650.1 178.1 L650.6 178.1 L651.1 178.1 L651.6 178.1 L652.1 178.1 L652.6 178.1 L653.1 178.1 L653.6 178.1 L654.1 178.1 L654.6 178.2 L655.1 178.8 L655.6 179.7 L656.1 180.9 L656.6 182.5 L657.1 184.6 L657.6 186.9 L658.1 189.4 L658.6 191.8 L659.1 193.9 L659.6 195.3 L660.1 196.0 L660.6 195.6 L661.1 193.9 L661.6 191.5 L662.1 188.9 L662.6 186.6 L663.1 184.9 L663.6 183.8 L664.1 183.2 L664.6 183.9 L665.1 184.9 L665.6 186.4 L666.1 188.4 L666.6 190.8 L667.1 193.7 L667.6 196.7 L668.1 199.5 L668.6 201.6 L669.1 202.9 L669.6 203.0 L670.1 202.4 L670.6 201.4 L671.1 200.5 L671.6 199.9 L672.1 199.6 L672.6 199.9 L673.1 200.6 L673.6 201.6 L674.1 202.7 L674.6 203.1 L675.1 202.6 L675.6 201.0 L676.1 198.7 L676.6 195.9 L677.1 193.0 L677.6 190.2 L678.1 187.8 L678.6 185.8 L679.1 184.3 L679.6 183.3 L680.1 182.6 L680.6 183.0 L681.1 183.8 L681.6 184.9 L682.1 186.4 L682.6 188.3 L683.1 190.6 L683.6 193.2 L684.1 196.1 L684.6 199.0 L685.1 201.8 L685.6 204.3 L686.1 206.2 L686.6 207.3 L687.1 207.6 L687.6 206.7 L688.1 204.8 L688.6 202.1 L689.1 199.2 L689.6 196.4 L690.1 194.0 L690.6 192.1 L691.1 190.7 L691.6 189.9 L692.1 189.4 L692.6 189.3 L693.1 189.2 L693.6 189.1 L694.1 189.0 L694.6 188.9 L695.1 188.8 L695.6 188.6 L696.1 187.8 L696.6 186.8 L697.1 185.6 L697.6 184.3 L698.1 183.0 L698.6 181.8 L699.1 180.6 L699.6 179.6 L700.1 178.8 L700.6 178.6 L701.1 179.2 L701.6 180.1 L702.1 181.3 L702.6 182.9 L703.1 184.8 L703.6 187.0 L704.1 189.4 L704.6 191.7 L705.1 193.7 L705.6 195.2 L706.1 195.9 L706.6 195.8 L707.1 194.8 L707.6 192.9 L708.1 190.7 L708.6 188.5 L709.1 186.4 L709.6 184.8 L710.1 183.7 L710.6 182.9 L711.1 182.6 L711.6 183.4 L712.1 184.5 L712.6 186.1 L713.1 188.3 L713.6 191.0 L714.1 194.0 L714.6 197.1 L715.1 199.9 L715.6 201.9 L716.1 203.0 L716.6 202.8 L717.1 201.3 L717.6 198.9 L718.1 196.0 L718.6 193.2 L719.1 190.9 L719.6 189.3 L720.1 188.2 L720.6 187.8 L721.1 188.3 L721.6 189.3 L722.1 190.9 L722.6 192.8 L723.1 194.6 L723.6 195.8 L724.1 195.9 L724.6 195.2 L725.1 193.7 L725.6 191.7 L726.1 189.5 L726.6 187.2 L727.1 185.1 L727.6 183.4 L728.1 182.0 L728.6 181.0 L729.1 180.3 L729.6 180.0 L730.1 180.5 L730.6 181.3 L731.1 182.5 L731.6 184.1 L732.1 186.0 L732.6 187.8 L733.1 189.3 L733.6 190.1 L734.1 190.1 L734.6 189.3 L735.1 188.0 L735.6 186.3 L736.1 184.5 L736.6 182.7 L737.1 181.2 L737.6 180.0 L738.1 179.1 L738.6 178.5 L739.1 178.1 L739.6 178.1 L740.1 178.1 L740.6 178.1 L741.1 178.1 L741.6 178.1 L742.1 178.1 L742.6 178.1 L743.1 178.1 L743.6 178.1 L744.1 178.1 L744.6 178.1 L745.1 178.1 L745.6 178.1 L746.1 178.1 L746.6 178.1 L747.1 178.1 L747.6 178.1 L748.1 178.1"/>
<path class="c" stroke="#0f0" d="M420.1 178.1 L420.6 178.1 L421.1 178.1 L421.6 178.1 L422.1 178.1 L422.6 178.1 L423.1 178.1 L423.6 178.1 L424.1 178.1 L424.6 178.1 L425.1 178.1 L425.6 178.1 L426.1 178.1 L426.6 178.1 L427.1 178.1 L427.6 178.1 L428.1 178.1 L428.6 178.1 L429.1 178.1 L429.6 178.1 L430.1 178.1 L430.6 178.1 L431.1 178.1 L431.6 178.1 L432.1 178.1 L432.6 178.1 L433.1 178.1 L433.6 178.1 L434.1 178.1 L434.6 178.1 L435.1 178.1 L435.6 178.1 L436.1 178.1 L436.6 178.1 L437.1 178.1 L437.6 178.1 L438.1 178.1 L438.6 178.1 L439.1 178.1 L439.6 178.1 L440.1 178.1 L440.6 178.1 L441.1 178.1 L441.6 178.1 L442.1 178.1 L442.6 178.1 L443.1 178.1 L443.6 178.1 L444.1 178.1 L444.6 178.1 L445.1 178.1 L445.6 178.1 L446.1 178.1 L446.6 178.1 L447.1 178.1 L447.6 178.1 L448.1 178.1 L448.6 178.1 L449.1 178.1 L449.6 178.1 L450.1 178.1 L450.6 178.1 L451.1 178.1 L451.6 178.1 L452.1 178.1 L452.6 178.1 L453.1 178.1 L453.6 178.1 L454.1 178.1 L454.6 178.1 L455.1 178.1 L455.6 178.1 L456.1 178.1 L456.6 178.1 L457.1 178.1 L457.6 178.1 L458.1 178.1 L458.6 178.1 L459.1 178.1 L459.6 178.1 L460.1 178.1 L460.6 178.1 L461.1 178.1 L461.6 178.1 L462.1 178.1 L462.6 178.1 L463.1 178.1 L463.6 178.1 L464.1 178.1 L464.6 178.1 L465.1 178.1 L465.6 178.1 L466.1 178.1 L466.6 178.1 L467.1 178.1 L467.6 178.1 L468.1 178.1 L468.6 178.1 L469.1 178.1 L469.6 178.1 L470.1 178.1 L470.6 178.1 L471.1 178.1 L471.6 178.1 L472.1 178.1 L472.6 178.1 L473.1 178.1 L473.6 178.1 L474.1 178.1 L474.6 178.1 L475.1 178.1 L475.6 178.1 L476.1 178.1 L476.6 178.1 L477.1 178.1 L477.6 178.1 L478.1 178.1 L478.6 178.1 L479.1 178.1 L479.6 178.1 L480.1 178.1 L480.6 178.1 L481.1 178.1 L481.6 178.1 L482.1 178.1 L482.6 178.1 L483.1 178.1 L483.6 178.1 L484.1 178.1 L484.6 178.1 L485.1 178.1 L485.6 178.1 L486.1 178.1 L486.6 178.1 L487.1 178.1 L487.6 178.1 L488.1 178.1 L488.6 178.1 L489.1 178.1 L489.6 178.1 L490.1 178.1 L490.6 178.1 L491.1 178.1 L491.6 178.1 L492.1 178.1 L492.6 178.1 L493.1 178.1 L493.6 178.1 L494.1 178.1 L494.6 178.1 L495.1 178.1 L495.6 178.1 L496.1 178.1 L496.6 178.1 L497.1 178.1 L497.6 178.1 L498.1 178.1 L498.6 178.1 L499.1 178.1 L499.6 178.1 L500.1 178.1 L500.6 178.1 L501.1 178.1 L501.6 178.1 L502.1 178.1 L502.6 178.1 L503.1 178.1 L503.6 178.1 L504.1 178.1 L504.6 178.1 L505.1 178.1 L505.6 178.1 L506.1 178.1 L506.6 178.1 L507.1 178.1 L507.6 178.1 L508.1 178.1 L508.6 178.1 L509.1 178.1 L509.6 178.1 L510.1 178.1 L510.6 178.1 L511.1 178.1 L511.6 178.1 L512.1 178.1 L512.6 178.1 L513.1 178.1 L513.6 178.1 L514.1 178.1 L514.6 178.1 L515.1 178.1 L515.6 178.1 L516.1 178.1 L516.6 178.1 L517.1 178.1 L517.6 178.1 L518.1 178.1 L518.6 178.1 L519.1 178.1 L519.6 178.1 L520.1 178.1 L520.6 178.1 L521.1 178.1 L521.6 178.1 L522.1 178.1 L522.6 178.1 L523.1 178.1 L523.6 178.1 L524.1 178.1 L524.6 178.1 L525.1 178.1 L525.6 178.1 L526.1 178.1 L526.6 178.1 L527.1 178.1 L527.6 178.1 L528.1 178.1 L528.6 178.1 L529.1 178.1 L529.6 178.1 L530.1 178.1 L530.6 178.1 L531.1 178.1 L531.6 178.1 L532.1 178.1 L532.6 178.1 L533.1 178.1 L533.6 178.1 L534.1 178.1 L534.6 178.1 L535.1 178.1 L535.6 178.1 L536.1 178.1 L536.6 178.1 L537.1 178.1 L537.6 178.1 L538.1 178.1 L538.6 178.1 L539.1 178.1 L539.6 178.1 L540.1 178.1 L540.6 178.1 L541.1 178.1 L541.6 178.1 L542.1 178.1 L542.6 178.1 L543.1 178.1 L543.6 178.1 L544.1 178.1 L544.6 178.1 L545.1 178.1 L545.6 178.1 L546.1 178.1 L546.6 178.1 L547.1 178.1 L547.6 178.1 L548.1 178.1 L548.6 178.1 L549.1 178.1 L549.6 178.1 L550.1 178.1 L550.6 178.1 L551.1 178.1 L551.6 178.1 L552.1 178.1 L552.6 178.1 L553.1 178.1 L553.6 178.1 L554.1 178.1 L554.6 178.1 L555.1 178.1 L555.6 178.1 L556.1 178.1 L556.6 178.1 L557.1 178.1 L557.6 178.1 L558.1 178.1 L558.6 178.1 L559.1 178.1 L559.6 178.1 L560.1 178.1 L560.6 178.1 L561.1 178.1 L561.6 178.1 L562.1 178.1 L562.6 178.1 L563.1 178.1 L563.6 178.1 L564.1 178.1 L564.6 178.1 L565.1 178.1 L565.6 178.1 L566.1 178.1 L566.6 178.1 L567.1 178.1 L567.6 178.1 L568.1 178.1 L568.6 178.1 L569.1 178.1 L569.6 178.1 L570.1 178.1 L570.6 178.1 L571.1 178.1 L571.6 178.1 L572.1 177.8 L572.6 177.4 L573.1 177.0 L573.6 176.7 L574.1 176.9 L574.6 177.2 L575.1 177.6 L575.6 177.9 L576.1 178.2 L576.6 178.2 L577.1 178.0 L577.6 177.8 L578.1 177.6 L578.6 177.4 L579.1 177.2 L579.6 177.0 L580.1 177.1 L580.6 177.3 L581.1 177.4 L581.6 177.6 L582.1 177.7 L582.6 177.9 L583.1 178.1 L583.6 178.3 L584.1 178.6 L584.6 178.9 L585.1 179.2 L585.6 179.5 L586.1 179.8 L586.6 180.1 L587.1 180.3 L587.6 180.5 L588.1 180.5 L588.6 180.3 L589.1 179.9 L589.6 179.6 L590.1 179.1 L590.6 178.7 L591.1 178.2 L591.6 177.8 L592.1 177.3 L592.6 176.9 L593.1 176.5 L593.6 176.1 L594.1 175.8 L594.6 175.6 L595.1 175.9 L595.6 176.3 L596.1 176.7 L596.6 177.3 L597.1 177.8 L597.6 178.4 L598.1 179.0 L598.6 179.6 L599.1 180.1 L599.6 180.6 L600.1 181.1 L600.6 181.4 L601.1 181.6 L601.6 180.9 L602.1 179.9 L602.6 178.9 L603.1 177.8 L603.6 176.9 L604.1 176.3 L604.6 176.5 L605.1 176.7 L605.6 176.9 L606.1 177.2 L606.6 177.5 L607.1 177.7 L607.6 178.0 L608.1 178.1 L608.6 178.0 L609.1 177.8 L609.6 177.6 L610.1 177.4 L610.6 177.2 L611.1 177.0 L611.6 176.8 L612.1 176.7 L612.6 176.8 L613.1 177.1 L613.6 177.3 L614.1 177.6 L614.6 177.9 L615.1 178.2 L615.6 178.5 L616.1 178.8 L616.6 179.0 L617.1 179.2 L617.6 178.9 L618.1 178.6 L618.6 178.1 L619.1 177.7 L619.6 177.3 L620.1 176.9 L620.6 176.7 L621.1 177.0 L621.6 177.5 L622.1 178.1 L622.6 178.7 L623.1 179.3 L623.6 179.7 L624.1 179.8 L624.6 179.4 L625.1 178.9 L625.6 178.3 L626.1 177.8 L626.6 177.3 L627.1 177.0 L627.6 177.2 L628.1 177.5 L628.6 177.8 L629.1 178.1 L629.6 178.4 L630.1 178.6 L630.6 178.8 L631.1 178.6 L631.6 178.3 L632.1 177.9 L632.6 177.5 L633.1 177.1 L633.6 176.8 L634.1 176.7 L634.6 177.0 L635.1 177.3 L635.6 177.6 L636.1 177.9 L636.6 178.1 L637.1 178.1 L637.6 178.1 L638.1 178.1 L638.6 178.1 L639.1 178.1 L639.6 178.1 L640.1 178.1 L640.6 178.1 L641.1 178.1 L641.6 178.1 L642.1 178.1 L642.6 178.1 L643.1 178.1 L643.6 178.1 L644.1 178.1 L644.6 178.1 L645.1 178.1 L645.6 178.1 L646.1 178.1 L646.6 178.1 L647.1 178.1 L647.6 178.1 L648.1 178.1 L648.6 178.1 L649.1 178.1 L649.6 178.1 L650.1 178.1 L650.6 178.1 L651.1 178.1 L651.6 178.1 L652.1 178.1 L652.6 178.1 L653.1 178.1 L653.6 178.1 L654.1 178.1 L654.6 178.1 L655.1 178.1 L655.6 178.1 L656.1 178.1 L656.6 178.1 L657.1 178.1 L657.6 178.1 L658.1 178.1 L658.6 178.1 L659.1 178.1 L659.6 178.1 L660.1 178.1 L660.6 178.1 L661.1 178.1 L661.6 178.1 L662.1 178.1 L662.6 178.1 L663.1 178.1 L663.6 178.1 L664.1 178.1 L664.6 178.1 L665.1 178.1 L665.6 178.1 L666.1 178.1 L666.6 178.1 L667.1 178.1 L667.6 178.1 L668.1 178.1 L668.6 178.1 L669.1 178.1 L669.6 178.1 L670.1 178.1 L670.6 178.1 L671.1 178.1 L671.6 178.1 L672.1 178.1 L672.6 178.1 L673.1 178.1 L673.6 178.1 L674.1 178.1 L674.6 178.1 L675.1 178.1 L675.6 178.1 L676.1 178.1 L676.6 178.1 L677.1 178.1 L677.6 178.1 L678.1 178.1 L678.6 178.1 L679.1 178.1 L679.6 178.1 L680.1 178.1 L680.6 178.1 L681.1 178.1 L681.6 178.1 L682.1 178.1 L682.6 178.1 L683.1 178.1 L683.6 178.1 L684.1 178.1 L684.6 178.1 L685.1 178.1 L685.6 178.1 L686.1 178.1 L686.6 178.1 L687.1 178.1 L687.6 178.1 L688.1 178.1 L688.6 178.1 L689.1 178.1 L689.6 178.1 L690.1 178.1 L690.6 178.1 L691.1 178.1 L691.6 178.1 L692.1 178.1 L692.6 178.1 L693.1 178.1 L693.6 178.1 L694.1 178.1 L694.6 178.1 L695.1 178.1 L695.6 178.1 L696.1 178.1 L696.6 178.1 L697.1 178.1 L697.6 178.1 L698.1 178.1 L698.6 178.1 L699.1 178.1 L699.6 178.1 L700.1 178.1 L700.6 178.1 L701.1 178.1 L701.6 178.1 L702.1 178.1 L702.6 178.1 L703.1 178.1 L703.6 178.1 L704.1 178.1 L704.6 178.1 L705.1 178.1 L705.6 178.1 L706.1 178.1 L706.6 178.1 L707.1 178.1 L707.6 178.1 L708.1 178.1 L708.6 178.1 L709.1 178.1 L709.6 178.1 L710.1 178.1 L710.6 178.1 L711.1 178.1 L711.6 178.1 L712.1 178.1 L712.6 178.1 L713.1 178.1 L713.6 178.1 L714.1 178.1 L714.6 178.1 L715.1 178.1 L715.6 178.1 L716.1 178.1 L716.6 178.1 L717.1 178.1 L717.6 178.1 L718.1 178.1 L718.6 178.1 L719.1 178.1 L719.6 178.1 L720.1 178.1 L720.6 178.1 L721.1 178.1 L721.6 178.1 L722.1 178.1 L722.6 178.1 L723.1 178.1 L723.6 178.1 L724.1 178.1 L724.6 178.1 L725.1 178.1 L725.6 178.1 L726.1 178.1 L726.6 178.1 L727.1 178.1 L727.6 178.1 L728.1 178.1 L728.6 178.1 L729.1 178.1 L729.6 178.1 L730.1 178.1 L730.6 178.1 L731.1 178.1 L731.6 178.1 L732.1 178.1 L732.6 178.1 L733.1 178.1 L733.6 178.1 L734.1 178.1 L734.6 178.1 L735.1 178.1 L735.6 178.1 L736.1 178.1 L736.6 178.1 L737.1 178.1 L737.6 178.1 L738.1 178.1 L738.6 178.1 L739.1 178.1 L739.6 178.1 L740.1 178.1 L740.6 178.1 L741.1 178.1 L741.6 178.1 L742.1 178.1 L742.6 178.1 L743.1 178.1 L743.6 178.1 L744.1 178.1 L744.6 178.1 L745.1 178.1 L745.6 178.1 L746.1 178.1 L746.6 178.1 L747.1 178.1 L747.6 178.1 L748.1 178.1"/>
</g>
<path class="f" d="M420.10 36.00 h328.40 v284.20 h-328.40 Z M440.62 36.00 v16.70 M440.62 320.20 v-16.90 M466.28 36.00 v8.80 M466.28 320.20 v-8.00 M491.94 36.00 v16.70 M491.94 320.20 v-16.90 M517.59 36.00 v8.80 M517.59 320.20 v-8.00 M543.25 36.00 v16.70 M543.25 320.20 v-16.90 M568.91 36.00 v8.80 M568.91 320.20 v-8.00 M594.56 36.00 v16.70 M594.56 320.20 v-16.90 M620.22 36.00 v8.80 M620.22 320.20 v-8.00 M645.88 36.00 v16.70 M645.88 320.20 v-16.90 M671.53 36.00 v8.80 M671.53 320.20 v-8.00 M697.19 36.00 v16.70 M697.19 320.20 v-16.90 M722.84 36.00 v8.80 M722.84 320.20 v-8.00 M420.10 284.67 h7.80 M748.50 284.67 h-7.80 M420.10 249.15 h16.00 M748.50 249.15 h-16.00 M420.10 213.62 h7.80 M748.50 213.62 h-7.80 M420.10 178.10 h16.00 M748.50 178.10 h-16.00 M420.10 142.57 h7.80 M748.50 142.57 h-7.80 M420.10 107.05 h16.00 M748.50 107.05 h-16.00 M420.10 71.53 h7.80 M748.50 71.53 h-7.80"/>
<text class="ti" text-anchor="middle" x="584.6" y="18.9">COF-5 AB</text>
<rect x="425.69" y="337.15" width="7.0" height="1.9" fill="#000"/><text class="tk" x="432.58" y="344.80">20</text>
<rect x="477.00" y="337.15" width="7.0" height="1.9" fill="#000"/><text class="tk" x="483.89" y="344.80">15</text>
<rect x="528.31" y="337.15" width="7.0" height="1.9" fill="#000"/><text class="tk" x="535.20" y="344.80">10</text>
<rect x="585.79" y="337.15" width="7.0" height="1.9" fill="#000"/><text class="tk" x="592.69" y="344.80">5</text>
<text class="tk" x="640.30" y="344.80">0</text>
<text class="tk" x="691.62" y="344.80">5</text>
<rect x="756.90" y="319.95" width="7.0" height="1.9" fill="#000"/><text class="tk" x="763.79" y="327.60">4</text>
<rect x="756.90" y="248.90" width="7.0" height="1.9" fill="#000"/><text class="tk" x="763.79" y="256.55">2</text>
<text class="tk" x="756.40" y="185.50">0</text>
<text class="tk" x="756.40" y="114.45">2</text>
<text class="tk" x="756.40" y="43.40">4</text>
<clipPath id="cp0_368"><rect x="59.0" y="404.4" width="328.4" height="284.2"/></clipPath>
<g clip-path="url(#cp0_368)">
<path class="c" stroke="#000" d="M59.0 546.5 L59.5 546.5 L60.0 546.5 L60.5 546.5 L61.0 546.5 L61.5 546.5 L62.0 546.5 L62.5 546.3 L63.0 545.4 L63.5 544.1 L64.0 542.3 L64.5 540.0 L65.0 537.2 L65.5 533.9 L66.0 530.1 L66.5 526.1 L67.0 522.0 L67.5 518.0 L68.0 514.6 L68.5 512.0 L69.0 510.4 L69.5 510.1 L70.0 511.7 L70.5 515.1 L71.0 519.7 L71.5 524.8 L72.0 529.6 L72.5 534.0 L73.0 537.5 L73.5 540.2 L74.0 542.1 L74.5 542.6 L75.0 541.4 L75.5 539.4 L76.0 536.3 L76.5 531.9 L77.0 526.6 L77.5 520.8 L78.0 515.3 L78.5 510.8 L79.0 508.1 L79.5 507.5 L80.0 508.5 L80.5 510.8 L81.0 514.1 L81.5 518.5 L82.0 523.2 L82.5 527.9 L83.0 532.3 L83.5 536.3 L84.0 539.6 L84.5 542.3 L85.0 544.3 L85.5 545.6 L86.0 546.5 L86.5 546.5 L87.0 546.5 L87.5 546.5 L88.0 546.5 L88.5 546.5 L89.0 546.5 L89.5 546.5 L90.0 546.5 L90.5 546.5 L91.0 546.5 L91.5 546.5 L92.0 546.5 L92.5 546.5 L93.0 546.5 L93.5 546.5 L94.0 546.5 L94.5 546.5 L95.0 546.5 L95.5 546.5 L96.0 546.5 L96.5 546.5 L97.0 546.5 L97.5 546.5 L98.0 546.5 L98.5 546.5 L99.0 546.5 L99.5 546.5 L100.0 546.5 L100.5 546.5 L101.0 546.5 L101.5 546.5 L102.0 546.5 L102.5 546.5 L103.0 546.5 L103.5 546.5 L104.0 546.5 L104.5 546.5 L105.0 546.5 L105.5 546.5 L106.0 546.5 L106.5 546.5 L107.0 546.5 L107.5 546.5 L108.0 546.5 L108.5 546.5 L109.0 546.5 L109.5 546.5 L110.0 546.5 L110.5 546.5 L111.0 546.5 L111.5 546.5 L112.0 546.5 L112.5 546.5 L113.0 546.5 L113.5 546.5 L114.0 546.5 L114.5 546.5 L115.0 546.5 L115.5 546.1 L116.0 545.3 L116.5 544.1 L117.0 542.5 L117.5 540.7 L118.0 538.7 L118.5 537.0 L119.0 535.9 L119.5 535.7 L120.0 535.9 L120.5 536.2 L121.0 536.6 L121.5 536.8 L122.0 537.0 L122.5 537.0 L123.0 536.6 L123.5 535.8 L124.0 534.8 L124.5 533.4 L125.0 531.8 L125.5 529.9 L126.0 527.7 L126.5 525.3 L127.0 523.0 L127.5 520.8 L128.0 519.0 L128.5 517.8 L129.0 517.2 L129.5 517.7 L130.0 519.6 L130.5 522.5 L131.0 526.2 L131.5 530.2 L132.0 534.0 L132.5 537.5 L133.0 540.5 L133.5 542.8 L134.0 544.5 L134.5 545.7 L135.0 546.3 L135.5 546.3 L136.0 546.4 L136.5 546.5 L137.0 546.5 L137.5 546.5 L138.0 546.5 L138.5 546.5 L139.0 546.5 L139.5 546.5 L140.0 546.1 L140.5 544.7 L141.0 542.8 L141.5 540.2 L142.0 536.9 L142.5 532.8 L143.0 528.1 L143.5 522.9 L144.0 517.4 L144.5 511.9 L145.0 506.7 L145.5 502.2 L146.0 498.8 L146.5 496.7 L147.0 496.1 L147.5 496.7 L148.0 498.1 L148.5 500.2 L149.0 502.9 L149.5 506.0 L150.0 509.3 L150.5 512.8 L151.0 516.3 L151.5 519.6 L152.0 522.6 L152.5 525.3 L153.0 527.7 L153.5 529.7 L154.0 531.3 L154.5 532.5 L155.0 533.4 L155.5 534.1 L156.0 533.9 L156.5 533.0 L157.0 531.6 L157.5 529.6 L158.0 527.2 L158.5 524.7 L159.0 522.6 L159.5 521.4 L160.0 521.5 L160.5 522.9 L161.0 525.4 L161.5 528.6 L162.0 532.1 L162.5 535.6 L163.0 538.6 L163.5 541.2 L164.0 543.2 L164.5 544.6 L165.0 545.6 L165.5 545.9 L166.0 546.0 L166.5 546.0 L167.0 546.0 L167.5 546.0 L168.0 546.0 L168.5 546.0 L169.0 546.0 L169.5 546.0 L170.0 546.0 L170.5 545.3 L171.0 544.4 L171.5 543.3 L172.0 541.9 L172.5 540.2 L173.0 538.2 L173.5 535.9 L174.0 533.3 L174.5 530.4 L175.0 527.2 L175.5 523.8 L176.0 520.3 L176.5 516.8 L177.0 513.3 L177.5 510.0 L178.0 507.0 L178.5 504.5 L179.0 502.6 L179.5 501.2 L180.0 500.6 L180.5 500.7 L181.0 501.3 L181.5 502.4 L182.0 503.9 L182.5 505.8 L183.0 507.9 L183.5 510.1 L184.0 512.4 L184.5 514.7 L185.0 516.9 L185.5 519.0 L186.0 521.0 L186.5 522.8 L187.0 524.4 L187.5 525.7 L188.0 526.9 L188.5 527.8 L189.0 528.6 L189.5 528.5 L190.0 527.7 L190.5 526.0 L191.0 523.6 L191.5 520.6 L192.0 517.3 L192.5 514.1 L193.0 511.7 L193.5 510.4 L194.0 510.7 L194.5 512.8 L195.0 516.1 L195.5 520.2 L196.0 524.4 L196.5 528.1 L197.0 531.1 L197.5 533.3 L198.0 534.9 L198.5 535.2 L199.0 533.9 L199.5 531.4 L200.0 527.8 L200.5 522.9 L201.0 517.5 L201.5 512.8 L202.0 509.8 L202.5 509.3 L203.0 510.5 L203.5 512.8 L204.0 515.5 L204.5 517.9 L205.0 519.6 L205.5 520.6 L206.0 521.0 L206.5 520.3 L207.0 519.5 L207.5 518.5 L208.0 517.5 L208.5 516.4 L209.0 515.2 L209.5 514.0 L210.0 512.4 L210.5 510.5 L211.0 508.1 L211.5 504.9 L212.0 500.7 L212.5 495.7 L213.0 489.8 L213.5 483.3 L214.0 476.7 L214.5 470.5 L215.0 465.2 L215.5 460.4 L216.0 457.1 L216.5 456.0 L217.0 458.1 L217.5 463.2 L218.0 470.0 L218.5 477.7 L219.0 485.5 L219.5 492.9 L220.0 498.7 L220.5 503.1 L221.0 506.3 L221.5 506.7 L222.0 504.6 L222.5 500.6 L223.0 494.4 L223.5 486.6 L224.0 479.0 L224.5 473.6 L225.0 471.9 L225.5 475.1 L226.0 482.1 L226.5 491.3 L227.0 499.9 L227.5 506.7 L228.0 511.3 L228.5 514.2 L229.0 511.9 L229.5 507.9 L230.0 501.7 L230.5 493.0 L231.0 482.0 L231.5 469.4 L232.0 456.7 L232.5 445.0 L233.0 436.1 L233.5 431.8 L234.0 432.5 L234.5 437.5 L235.0 445.4 L235.5 454.3 L236.0 462.7 L236.5 470.9 L237.0 477.3 L237.5 482.0 L238.0 484.5 L238.5 485.0 L239.0 484.7 L239.5 483.4 L240.0 481.6 L240.5 479.7 L241.0 479.1 L241.5 480.2 L242.0 482.8 L242.5 486.8 L243.0 492.0 L243.5 498.5 L244.0 505.5 L244.5 512.3 L245.0 518.6 L245.5 524.4 L246.0 529.4 L246.5 533.6 L247.0 537.0 L247.5 539.8 L248.0 542.0 L248.5 543.3 L249.0 542.8 L249.5 541.9 L250.0 540.7 L250.5 538.9 L251.0 536.6 L251.5 533.9 L252.0 530.7 L252.5 527.1 L253.0 523.2 L253.5 519.1 L254.0 514.9 L254.5 510.7 L255.0 506.8 L255.5 503.6 L256.0 501.1 L256.5 499.5 L257.0 498.9 L257.5 499.2 L258.0 500.2 L258.5 502.0 L259.0 504.3 L259.5 507.2 L260.0 510.6 L260.5 514.2 L261.0 517.7 L261.5 521.0 L262.0 524.2 L262.5 527.0 L263.0 529.5 L263.5 531.6 L264.0 533.4 L264.5 534.9 L265.0 536.1 L265.5 537.1 L266.0 537.5 L266.5 536.7 L267.0 535.4 L267.5 533.4 L268.0 530.8 L268.5 527.9 L269.0 525.1 L269.5 523.2 L270.0 522.5 L270.5 523.0 L271.0 524.4 L271.5 526.6 L272.0 529.3 L272.5 532.6 L273.0 535.8 L273.5 538.7 L274.0 541.2 L274.5 543.3 L275.0 544.8 L275.5 545.9 L276.0 546.5 L276.5 546.5 L277.0 546.5 L277.5 546.5 L278.0 546.5 L278.5 546.5 L279.0 546.5 L279.5 546.5 L280.0 546.5 L280.5 546.5 L281.0 546.5 L281.5 546.5 L282.0 546.5 L282.5 546.5 L283.0 546.5 L283.5 546.5 L284.0 546.5 L284.5 546.5 L285.0 546.5 L285.5 546.5 L286.0 546.5 L286.5 546.5 L287.0 546.5 L287.5 546.5 L288.0 546.5 L288.5 546.5 L289.0 546.5 L289.5 546.5 L290.0 546.5 L290.5 546.5 L291.0 546.5 L291.5 546.5 L292.0 546.5 L292.5 546.5 L293.0 546.5 L293.5 546.5 L294.0 546.1 L294.5 545.4 L295.0 544.3 L295.5 542.8 L296.0 540.9 L296.5 538.7 L297.0 536.3 L297.5 533.7 L298.0 531.3 L298.5 529.5 L299.0 528.5 L299.5 528.5 L300.0 529.8 L300.5 531.9 L301.0 534.3 L301.5 536.8 L302.0 538.7 L302.5 540.0 L303.0 541.0 L303.5 540.6 L304.0 539.9 L304.5 538.7 L305.0 537.0 L305.5 534.7 L306.0 532.0 L306.5 528.9 L307.0 525.9 L307.5 523.6 L308.0 522.1 L308.5 521.7 L309.0 522.1 L309.5 522.8 L310.0 523.5 L310.5 523.9 L311.0 524.0 L311.5 523.6 L312.0 522.8 L312.5 521.7 L313.0 520.6 L313.5 520.1 L314.0 520.5 L314.5 522.0 L315.0 524.3 L315.5 527.0 L316.0 529.9 L316.5 532.9 L317.0 535.5 L317.5 537.8 L318.0 539.6 L318.5 541.0 L319.0 542.0 L319.5 542.0 L320.0 541.5 L320.5 540.6 L321.0 539.3 L321.5 537.3 L322.0 534.9 L322.5 532.0 L323.0 528.9 L323.5 525.7 L324.0 522.7 L324.5 519.9 L325.0 517.8 L325.5 516.4 L326.0 516.0 L326.5 516.6 L327.0 518.4 L327.5 521.2 L328.0 524.2 L328.5 527.1 L329.0 529.6 L329.5 531.7 L330.0 533.1 L330.5 534.2 L331.0 534.7 L331.5 535.0 L332.0 535.2 L332.5 535.4 L333.0 535.6 L333.5 535.8 L334.0 536.0 L334.5 536.3 L335.0 537.2 L335.5 538.3 L336.0 539.5 L336.5 540.8 L337.0 542.2 L337.5 543.5 L338.0 544.7 L338.5 545.8 L339.0 546.5 L339.5 546.5 L340.0 546.3 L340.5 545.5 L341.0 544.3 L341.5 542.8 L342.0 540.9 L342.5 538.7 L343.0 536.3 L343.5 533.8 L344.0 531.6 L344.5 529.8 L345.0 528.7 L345.5 528.5 L346.0 529.2 L346.5 530.7 L347.0 532.6 L347.5 534.6 L348.0 536.4 L348.5 538.2 L349.0 539.6 L349.5 540.7 L350.0 541.3 L350.5 540.9 L351.0 540.1 L351.5 538.8 L352.0 537.0 L352.5 534.5 L353.0 531.7 L353.5 528.5 L354.0 525.5 L354.5 523.1 L355.0 521.8 L355.5 521.6 L356.0 522.8 L356.5 525.0 L357.0 527.6 L357.5 530.2 L358.0 532.3 L358.5 534.2 L359.0 535.5 L359.5 536.3 L360.0 536.1 L360.5 535.5 L361.0 534.3 L361.5 532.7 L362.0 531.1 L362.5 529.8 L363.0 529.4 L363.5 529.9 L364.0 531.1 L364.5 532.8 L365.0 534.7 L365.5 536.7 L366.0 538.5 L366.5 540.0 L367.0 541.2 L367.5 542.3 L368.0 543.2 L368.5 543.6 L369.0 543.3 L369.5 542.7 L370.0 541.6 L370.5 540.2 L371.0 538.5 L371.5 536.7 L372.0 535.3 L372.5 534.5 L373.0 534.6 L373.5 535.3 L374.0 536.7 L374.5 538.3 L375.0 540.2 L375.5 541.9 L376.0 543.4 L376.5 544.6 L377.0 545.5 L377.5 546.2 L378.0 546.5 L378.5 546.5 L379.0 546.5 L379.5 546.5 L380.0 546.5 L380.5 546.5 L381.0 546.5 L381.5 546.5 L382.0 546.5 L382.5 546.5 L383.0 546.5 L383.5 546.5 L384.0 546.5 L384.5 546.5 L385.0 546.5 L385.5 546.5 L386.0 546.5 L386.5 546.5 L387.0 546.5"/>
<path class="c" stroke="#0f0" d="M59.0 546.5 L59.5 546.5 L60.0 546.5 L60.5 546.5 L61.0 546.5 L61.5 546.5 L62.0 546.5 L62.5 546.6 L63.0 546.7 L63.5 546.7 L64.0 546.8 L64.5 546.9 L65.0 547.0 L65.5 547.1 L66.0 547.2 L66.5 547.2 L67.0 547.3 L67.5 547.1 L68.0 546.9 L68.5 546.7 L69.0 546.5 L69.5 546.2 L70.0 545.9 L70.5 545.7 L71.0 545.5 L71.5 545.3 L72.0 545.1 L72.5 545.3 L73.0 545.6 L73.5 545.9 L74.0 546.2 L74.5 546.5 L75.0 546.8 L75.5 547.1 L76.0 547.3 L76.5 547.1 L77.0 546.9 L77.5 546.6 L78.0 546.3 L78.5 546.0 L79.0 545.7 L79.5 545.4 L80.0 545.2 L80.5 544.9 L81.0 544.8 L81.5 544.9 L82.0 545.1 L82.5 545.4 L83.0 545.7 L83.5 545.9 L84.0 546.2 L84.5 546.4 L85.0 546.5 L85.5 546.5 L86.0 546.5 L86.5 546.5 L87.0 546.5 L87.5 546.5 L88.0 546.5 L88.5 546.5 L89.0 546.5 L89.5 546.5 L90.0 546.5 L90.5 546.5 L91.0 546.5 L91.5 546.5 L92.0 546.5 L92.5 546.5 L93.0 546.5 L93.5 546.5 L94.0 546.5 L94.5 546.5 L95.0 546.5 L95.5 546.5 L96.0 546.5 L96.5 546.5 L97.0 546.5 L97.5 546.5 L98.0 546.5 L98.5 546.5 L99.0 546.5 L99.5 546.5 L100.0 546.5 L100.5 546.5 L101.0 546.5 L101.5 546.5 L102.0 546.5 L102.5 546.5 L103.0 546.5 L103.5 546.5 L104.0 546.5 L104.5 546.5 L105.0 546.5 L105.5 546.5 L106.0 546.5 L106.5 546.5 L107.0 546.5 L107.5 546.5 L108.0 546.5 L108.5 546.5 L109.0 546.5 L109.5 546.5 L110.0 546.5 L110.5 546.5 L111.0 546.5 L111.5 546.5 L112.0 546.5 L112.5 546.5 L113.0 546.5 L113.5 546.5 L114.0 546.5 L114.5 546.5 L115.0 546.5 L115.5 546.5 L116.0 546.5 L116.5 546.6 L117.0 546.7 L117.5 546.8 L118.0 546.9 L118.5 547.0 L119.0 547.1 L119.5 547.2 L120.0 547.3 L120.5 547.4 L121.0 547.5 L121.5 547.6 L122.0 547.6 L122.5 547.5 L123.0 547.4 L123.5 547.3 L124.0 547.1 L124.5 546.9 L125.0 546.7 L125.5 546.5 L126.0 546.4 L126.5 546.2 L127.0 546.0 L127.5 545.8 L128.0 545.7 L128.5 545.6 L129.0 545.5 L129.5 545.6 L130.0 545.7 L130.5 545.8 L131.0 546.0 L131.5 546.1 L132.0 546.3 L132.5 546.5 L133.0 546.7 L133.5 546.8 L134.0 547.0 L134.5 547.1 L135.0 547.3 L135.5 547.3 L136.0 547.4 L136.5 547.5 L137.0 547.5 L137.5 547.6 L138.0 547.7 L138.5 547.7 L139.0 547.8 L139.5 547.9 L140.0 547.9 L140.5 547.9 L141.0 548.0 L141.5 547.8 L142.0 547.6 L142.5 547.3 L143.0 547.0 L143.5 546.7 L144.0 546.4 L144.5 546.0 L145.0 545.7 L145.5 545.4 L146.0 545.2 L146.5 544.9 L147.0 544.8 L147.5 544.9 L148.0 544.9 L148.5 545.1 L149.0 545.2 L149.5 545.3 L150.0 545.5 L150.5 545.7 L151.0 545.8 L151.5 546.0 L152.0 546.1 L152.5 546.3 L153.0 546.4 L153.5 546.5 L154.0 546.5 L154.5 546.5 L155.0 546.4 L155.5 546.3 L156.0 546.2 L156.5 546.1 L157.0 546.0 L157.5 545.9 L158.0 545.8 L158.5 545.7 L159.0 545.6 L159.5 545.5 L160.0 545.5 L160.5 545.5 L161.0 545.6 L161.5 545.7 L162.0 545.8 L162.5 545.9 L163.0 546.0 L163.5 546.1 L164.0 546.2 L164.5 546.3 L165.0 546.4 L165.5 546.5 L166.0 546.5 L166.5 546.5 L167.0 546.5 L167.5 546.5 L168.0 546.5 L168.5 546.5 L169.0 546.5 L169.5 546.5 L170.0 546.5 L170.5 546.5 L171.0 546.5 L171.5 546.5 L172.0 546.5 L172.5 546.5 L173.0 546.5 L173.5 546.5 L174.0 546.5 L174.5 546.5 L175.0 546.5 L175.5 546.5 L176.0 546.5 L176.5 546.5 L177.0 546.5 L177.5 546.5 L178.0 546.4 L178.5 546.3 L179.0 546.2 L179.5 546.1 L180.0 546.0 L180.5 545.9 L181.0 545.8 L181.5 545.7 L182.0 545.6 L182.5 545.5 L183.0 545.4 L183.5 545.3 L184.0 545.2 L184.5 545.2 L185.0 545.1 L185.5 545.3 L186.0 545.5 L186.5 545.7 L187.0 545.9 L187.5 546.2 L188.0 546.5 L188.5 546.7 L189.0 546.9 L189.5 547.1 L190.0 547.3 L190.5 547.1 L191.0 546.9 L191.5 546.7 L192.0 546.5 L192.5 546.2 L193.0 545.9 L193.5 545.7 L194.0 545.5 L194.5 545.3 L195.0 545.1 L195.5 545.3 L196.0 545.5 L196.5 545.7 L197.0 545.9 L197.5 546.2 L198.0 546.5 L198.5 546.7 L199.0 546.9 L199.5 547.1 L200.0 547.3 L200.5 547.2 L201.0 547.0 L201.5 546.8 L202.0 546.7 L202.5 546.5 L203.0 546.2 L203.5 546.0 L204.0 545.8 L204.5 545.7 L205.0 545.5 L205.5 545.4 L206.0 545.2 L206.5 545.1 L207.0 545.0 L207.5 544.9 L208.0 544.8 L208.5 544.7 L209.0 544.6 L209.5 544.5 L210.0 544.4 L210.5 544.8 L211.0 545.5 L211.5 546.3 L212.0 547.3 L212.5 548.3 L213.0 549.3 L213.5 550.3 L214.0 551.2 L214.5 551.9 L215.0 552.5 L215.5 551.9 L216.0 550.6 L216.5 549.0 L217.0 547.3 L217.5 545.6 L218.0 544.0 L218.5 542.8 L219.0 542.4 L219.5 542.9 L220.0 543.5 L220.5 544.2 L221.0 545.0 L221.5 545.7 L222.0 546.3 L222.5 546.8 L223.0 546.8 L223.5 546.5 L224.0 546.1 L224.5 545.7 L225.0 545.3 L225.5 545.0 L226.0 544.8 L226.5 545.1 L227.0 545.6 L227.5 546.2 L228.0 546.8 L228.5 547.5 L229.0 548.2 L229.5 548.9 L230.0 549.6 L230.5 550.2 L231.0 550.8 L231.5 551.4 L232.0 551.8 L232.5 551.4 L233.0 550.1 L233.5 548.6 L234.0 546.8 L234.5 545.0 L235.0 543.4 L235.5 542.0 L236.0 541.0 L236.5 541.8 L237.0 542.9 L237.5 544.3 L238.0 545.7 L238.5 547.1 L239.0 548.4 L239.5 549.5 L240.0 550.0 L240.5 549.2 L241.0 548.2 L241.5 546.9 L242.0 545.7 L242.5 544.6 L243.0 543.8 L243.5 543.6 L244.0 543.9 L244.5 544.2 L245.0 544.5 L245.5 544.9 L246.0 545.3 L246.5 545.7 L247.0 546.2 L247.5 546.6 L248.0 547.0 L248.5 547.4 L249.0 547.8 L249.5 548.1 L250.0 548.4 L250.5 548.6 L251.0 548.7 L251.5 548.8 L252.0 548.8 L252.5 548.9 L253.0 549.0 L253.5 549.0 L254.0 548.9 L254.5 548.6 L255.0 548.2 L255.5 547.8 L256.0 547.4 L256.5 546.9 L257.0 546.4 L257.5 546.0 L258.0 545.6 L258.5 545.2 L259.0 544.9 L259.5 544.8 L260.0 544.9 L260.5 545.0 L261.0 545.1 L261.5 545.3 L262.0 545.4 L262.5 545.6 L263.0 545.7 L263.5 545.9 L264.0 546.1 L264.5 546.2 L265.0 546.4 L265.5 546.6 L266.0 546.8 L266.5 547.0 L267.0 547.2 L267.5 547.3 L268.0 547.5 L268.5 547.6 L269.0 547.4 L269.5 547.1 L270.0 546.6 L270.5 546.2 L271.0 545.8 L271.5 545.4 L272.0 545.1 L272.5 545.3 L273.0 545.5 L273.5 545.8 L274.0 546.0 L274.5 546.3 L275.0 546.5 L275.5 546.5 L276.0 546.5 L276.5 546.5 L277.0 546.5 L277.5 546.5 L278.0 546.5 L278.5 546.5 L279.0 546.5 L279.5 546.5 L280.0 546.5 L280.5 546.5 L281.0 546.5 L281.5 546.5 L282.0 546.5 L282.5 546.5 L283.0 546.5 L283.5 546.5 L284.0 546.5 L284.5 546.5 L285.0 546.5 L285.5 546.5 L286.0 546.5 L286.5 546.5 L287.0 546.5 L287.5 546.5 L288.0 546.5 L288.5 546.5 L289.0 546.5 L289.5 546.5 L290.0 546.5 L290.5 546.5 L291.0 546.5 L291.5 546.5 L292.0 546.5 L292.5 546.5 L293.0 546.5 L293.5 546.6 L294.0 546.8 L294.5 546.9 L295.0 547.1 L295.5 547.2 L296.0 547.4 L296.5 547.5 L297.0 547.6 L297.5 547.4 L298.0 547.1 L298.5 546.8 L299.0 546.4 L299.5 546.0 L300.0 545.6 L300.5 545.3 L301.0 545.1 L301.5 545.3 L302.0 545.5 L302.5 545.8 L303.0 546.1 L303.5 546.4 L304.0 546.7 L304.5 547.0 L305.0 547.2 L305.5 547.5 L306.0 547.6 L306.5 547.5 L307.0 547.3 L307.5 547.1 L308.0 546.9 L308.5 546.6 L309.0 546.4 L309.5 546.1 L310.0 545.9 L310.5 545.7 L311.0 545.5 L311.5 545.4 L312.0 545.3 L312.5 545.2 L313.0 545.1 L313.5 545.1 L314.0 545.0 L314.5 544.9 L315.0 544.9 L315.5 544.8 L316.0 544.8 L316.5 545.0 L317.0 545.2 L317.5 545.5 L318.0 545.8 L318.5 546.2 L319.0 546.5 L319.5 546.9 L320.0 547.2 L320.5 547.4 L321.0 547.6 L321.5 547.5 L322.0 547.3 L322.5 547.1 L323.0 546.9 L323.5 546.6 L324.0 546.4 L324.5 546.1 L325.0 545.9 L325.5 545.6 L326.0 545.4 L326.5 545.3 L327.0 545.1 L327.5 545.2 L328.0 545.3 L328.5 545.4 L329.0 545.5 L329.5 545.6 L330.0 545.8 L330.5 545.9 L331.0 546.1 L331.5 546.2 L332.0 546.3 L332.5 546.4 L333.0 546.5 L333.5 546.6 L334.0 546.7 L334.5 546.8 L335.0 546.9 L335.5 546.9 L336.0 547.0 L336.5 547.1 L337.0 547.1 L337.5 547.2 L338.0 547.3 L338.5 547.3 L339.0 547.3 L339.5 547.4 L340.0 547.4 L340.5 547.5 L341.0 547.5 L341.5 547.5 L342.0 547.6 L342.5 547.6 L343.0 547.6 L343.5 547.4 L344.0 547.2 L344.5 546.9 L345.0 546.5 L345.5 546.2 L346.0 545.8 L346.5 545.5 L347.0 545.2 L347.5 545.0 L348.0 544.8 L348.5 545.0 L349.0 545.2 L349.5 545.5 L350.0 545.8 L350.5 546.2 L351.0 546.5 L351.5 546.9 L352.0 547.2 L352.5 547.4 L353.0 547.6 L353.5 547.5 L354.0 547.2 L354.5 547.0 L355.0 546.7 L355.5 546.4 L356.0 546.1 L356.5 545.8 L357.0 545.5 L357.5 545.3 L358.0 545.1 L358.5 545.3 L359.0 545.6 L359.5 546.0 L360.0 546.4 L360.5 546.8 L361.0 547.1 L361.5 547.4 L362.0 547.6 L362.5 547.5 L363.0 547.2 L363.5 547.0 L364.0 546.7 L364.5 546.4 L365.0 546.1 L365.5 545.8 L366.0 545.5 L366.5 545.3 L367.0 545.1 L367.5 545.2 L368.0 545.3 L368.5 545.5 L369.0 545.7 L369.5 545.8 L370.0 546.0 L370.5 546.2 L371.0 546.3 L371.5 546.5 L372.0 546.5 L372.5 546.5 L373.0 546.5 L373.5 546.5 L374.0 546.5 L374.5 546.5 L375.0 546.5 L375.5 546.5 L376.0 546.5 L376.5 546.5 L377.0 546.5 L377.5 546.5 L378.0 546.5 L378.5 546.5 L379.0 546.5 L379.5 546.5 L380.0 546.5 L380.5 546.5 L381.0 546.5 L381.5 546.5 L382.0 546.5 L382.5 546.5 L383.0 546.5 L383.5 546.5 L384.0 546.5 L384.5 546.5 L385.0 546.5 L385.5 546.5 L386.0 546.5 L386.5 546.5 L387.0 546.5"/>
<path class="c" stroke="#f00" d="M59.0 546.5 L59.5 546.5 L60.0 546.5 L60.5 546.5 L61.0 546.5 L61.5 546.5 L62.0 546.5 L62.5 546.9 L63.0 547.8 L63.5 549.2 L64.0 551.1 L64.5 553.4 L65.0 556.3 L65.5 559.7 L66.0 563.6 L66.5 567.7 L67.0 571.8 L67.5 575.6 L68.0 578.9 L68.5 581.3 L69.0 582.6 L69.5 582.7 L70.0 580.8 L70.5 577.1 L71.0 572.3 L71.5 567.1 L72.0 562.1 L72.5 557.9 L73.0 554.6 L73.5 552.2 L74.0 550.7 L74.5 550.5 L75.0 552.0 L75.5 554.2 L76.0 557.5 L76.5 561.8 L77.0 566.9 L77.5 572.3 L78.0 577.6 L78.5 581.7 L79.0 584.1 L79.5 584.4 L80.0 583.2 L80.5 580.7 L81.0 577.2 L81.5 573.0 L82.0 568.5 L82.5 564.0 L83.0 559.9 L83.5 556.2 L84.0 553.1 L84.5 550.7 L85.0 548.8 L85.5 547.5 L86.0 546.5 L86.5 546.5 L87.0 546.5 L87.5 546.5 L88.0 546.5 L88.5 546.5 L89.0 546.5 L89.5 546.5 L90.0 546.5 L90.5 546.5 L91.0 546.5 L91.5 546.5 L92.0 546.5 L92.5 546.5 L93.0 546.5 L93.5 546.5 L94.0 546.5 L94.5 546.5 L95.0 546.5 L95.5 546.5 L96.0 546.5 L96.5 546.5 L97.0 546.5 L97.5 546.5 L98.0 546.5 L98.5 546.5 L99.0 546.5 L99.5 546.5 L100.0 546.5 L100.5 546.5 L101.0 546.5 L101.5 546.5 L102.0 546.5 L102.5 546.5 L103.0 546.5 L103.5 546.5 L104.0 546.5 L104.5 546.5 L105.0 546.5 L105.5 546.5 L106.0 546.5 L106.5 546.5 L107.0 546.5 L107.5 546.5 L108.0 546.5 L108.5 546.5 L109.0 546.5 L109.5 546.5 L110.0 546.5 L110.5 546.5 L111.0 546.5 L111.5 546.5 L112.0 546.5 L112.5 546.5 L113.0 546.5 L113.5 546.5 L114.0 546.5 L114.5 546.5 L115.0 546.5 L115.5 547.0 L116.0 547.8 L116.5 549.0 L117.0 550.7 L117.5 552.7 L118.0 554.7 L118.5 556.5 L119.0 557.7 L119.5 558.0 L120.0 557.9 L120.5 557.7 L121.0 557.5 L121.5 557.3 L122.0 557.1 L122.5 557.1 L123.0 557.4 L123.5 558.0 L124.0 558.9 L124.5 560.0 L125.0 561.5 L125.5 563.2 L126.0 565.3 L126.5 567.4 L127.0 569.6 L127.5 571.6 L128.0 573.2 L128.5 574.4 L129.0 574.8 L129.5 574.4 L130.0 572.7 L130.5 569.9 L131.0 566.3 L131.5 562.5 L132.0 558.8 L132.5 555.5 L133.0 552.8 L133.5 550.6 L134.0 549.1 L134.5 548.0 L135.0 547.5 L135.5 547.5 L136.0 547.5 L136.5 547.5 L137.0 547.5 L137.5 547.5 L138.0 547.5 L138.5 547.5 L139.0 547.5 L139.5 547.5 L140.0 548.4 L140.5 549.8 L141.0 551.7 L141.5 554.2 L142.0 557.3 L142.5 561.1 L143.0 565.5 L143.5 570.4 L144.0 575.5 L144.5 580.7 L145.0 585.6 L145.5 589.7 L146.0 592.9 L146.5 594.8 L147.0 595.2 L147.5 594.7 L148.0 593.4 L148.5 591.4 L149.0 588.9 L149.5 585.9 L150.0 582.7 L150.5 579.4 L151.0 576.1 L151.5 572.9 L152.0 570.1 L152.5 567.5 L153.0 565.2 L153.5 563.3 L154.0 561.8 L154.5 560.5 L155.0 559.5 L155.5 558.8 L156.0 558.9 L156.5 559.7 L157.0 561.0 L157.5 562.9 L158.0 565.2 L158.5 567.6 L159.0 569.6 L159.5 570.6 L160.0 570.5 L160.5 569.1 L161.0 566.7 L161.5 563.6 L162.0 560.2 L162.5 556.9 L163.0 553.9 L163.5 551.5 L164.0 549.6 L164.5 548.3 L165.0 547.4 L165.5 547.1 L166.0 547.1 L166.5 547.1 L167.0 547.1 L167.5 547.1 L168.0 547.1 L168.5 547.1 L169.0 547.1 L169.5 547.1 L170.0 547.1 L170.5 547.8 L171.0 548.7 L171.5 549.8 L172.0 551.2 L172.5 552.9 L173.0 554.9 L173.5 557.2 L174.0 559.8 L174.5 562.7 L175.0 565.9 L175.5 569.3 L176.0 572.8 L176.5 576.3 L177.0 579.8 L177.5 583.0 L178.0 585.9 L178.5 588.3 L179.0 590.2 L179.5 591.4 L180.0 591.9 L180.5 591.8 L181.0 591.1 L181.5 589.9 L182.0 588.3 L182.5 586.3 L183.0 584.1 L183.5 581.7 L184.0 579.3 L184.5 577.0 L185.0 574.8 L185.5 572.8 L186.0 571.0 L186.5 569.4 L187.0 568.1 L187.5 567.0 L188.0 566.1 L188.5 565.4 L189.0 564.9 L189.5 565.1 L190.0 566.1 L190.5 567.7 L191.0 569.9 L191.5 572.6 L192.0 575.7 L192.5 578.6 L193.0 580.8 L193.5 581.8 L194.0 581.3 L194.5 579.1 L195.0 575.6 L195.5 571.6 L196.0 567.6 L196.5 564.1 L197.0 561.3 L197.5 559.4 L198.0 558.1 L198.5 558.1 L199.0 559.6 L199.5 562.2 L200.0 566.0 L200.5 570.8 L201.0 576.0 L201.5 580.6 L202.0 583.4 L202.5 583.7 L203.0 582.3 L203.5 579.8 L204.0 576.9 L204.5 574.3 L205.0 572.5 L205.5 571.3 L206.0 570.8 L206.5 571.4 L207.0 572.1 L207.5 572.9 L208.0 573.8 L208.5 574.9 L209.0 575.9 L209.5 577.0 L210.0 578.6 L210.5 580.9 L211.0 584.0 L211.5 588.0 L212.0 593.1 L212.5 599.2 L213.0 606.1 L213.5 613.5 L214.0 621.0 L214.5 628.0 L215.0 633.8 L215.5 638.0 L216.0 640.1 L216.5 639.6 L217.0 635.7 L217.5 629.0 L218.0 620.5 L218.5 611.7 L219.0 603.5 L219.5 596.6 L220.0 591.3 L220.5 587.6 L221.0 585.2 L221.5 585.5 L222.0 588.2 L222.5 592.7 L223.0 599.0 L223.5 606.4 L224.0 613.7 L224.5 618.7 L225.0 619.9 L225.5 616.5 L226.0 609.2 L226.5 600.4 L227.0 592.2 L227.5 586.0 L228.0 582.0 L228.5 579.8 L229.0 582.8 L229.5 587.5 L230.0 594.4 L230.5 603.8 L231.0 615.4 L231.5 628.5 L232.0 641.6 L232.5 652.9 L233.0 660.6 L233.5 663.3 L234.0 660.9 L234.5 654.1 L235.0 644.6 L235.5 634.3 L236.0 624.9 L236.5 617.4 L237.0 612.2 L237.5 608.8 L238.0 607.8 L238.5 608.7 L239.0 610.3 L239.5 612.7 L240.0 614.9 L240.5 616.1 L241.0 615.6 L241.5 613.3 L242.0 609.5 L242.5 604.3 L243.0 598.3 L243.5 591.7 L244.0 585.0 L244.5 578.5 L245.0 572.5 L245.5 567.1 L246.0 562.5 L246.5 558.7 L247.0 555.7 L247.5 553.4 L248.0 551.6 L248.5 550.7 L249.0 551.6 L249.5 552.8 L250.0 554.3 L250.5 556.2 L251.0 558.6 L251.5 561.4 L252.0 564.7 L252.5 568.3 L253.0 572.3 L253.5 576.4 L254.0 580.5 L254.5 584.5 L255.0 587.9 L255.5 590.8 L256.0 592.8 L256.5 594.0 L257.0 594.1 L257.5 593.4 L258.0 591.9 L258.5 589.8 L259.0 587.2 L259.5 584.1 L260.0 580.8 L260.5 577.4 L261.0 574.0 L261.5 570.8 L262.0 567.8 L262.5 565.1 L263.0 562.8 L263.5 560.8 L264.0 559.2 L264.5 557.9 L265.0 556.8 L265.5 556.0 L266.0 555.9 L266.5 556.8 L267.0 558.3 L267.5 560.5 L268.0 563.2 L268.5 566.2 L269.0 568.9 L269.5 570.5 L270.0 570.7 L270.5 569.7 L271.0 567.9 L271.5 565.4 L272.0 562.4 L272.5 559.3 L273.0 556.3 L273.5 553.6 L274.0 551.3 L274.5 549.5 L275.0 548.2 L275.5 547.2 L276.0 546.5 L276.5 546.5 L277.0 546.5 L277.5 546.5 L278.0 546.5 L278.5 546.5 L279.0 546.5 L279.5 546.5 L280.0 546.5 L280.5 546.5 L281.0 546.5 L281.5 546.5 L282.0 546.5 L282.5 546.5 L283.0 546.5 L283.5 546.5 L284.0 546.5 L284.5 546.5 L285.0 546.5 L285.5 546.5 L286.0 546.5 L286.5 546.5 L287.0 546.5 L287.5 546.5 L288.0 546.5 L288.5 546.5 L289.0 546.5 L289.5 546.5 L290.0 546.5 L290.5 546.5 L291.0 546.5 L291.5 546.5 L292.0 546.5 L292.5 546.5 L293.0 546.5 L293.5 546.6 L294.0 547.2 L294.5 548.1 L295.0 549.4 L295.5 551.0 L296.0 553.0 L296.5 555.4 L297.0 557.9 L297.5 560.3 L298.0 562.4 L298.5 563.8 L299.0 564.4 L299.5 564.0 L300.0 562.4 L300.5 559.9 L301.0 557.3 L301.5 555.1 L302.0 553.4 L302.5 552.3 L303.0 551.6 L303.5 552.3 L304.0 553.3 L304.5 554.8 L305.0 556.8 L305.5 559.3 L306.0 562.2 L306.5 565.1 L307.0 567.9 L307.5 570.1 L308.0 571.3 L308.5 571.5 L309.0 570.8 L309.5 569.8 L310.0 568.9 L310.5 568.3 L311.0 568.0 L311.5 568.4 L312.0 569.1 L312.5 570.1 L313.0 571.1 L313.5 571.5 L314.0 571.0 L314.5 569.5 L315.0 567.1 L315.5 564.4 L316.0 561.4 L316.5 558.6 L317.0 556.2 L317.5 554.3 L318.0 552.8 L318.5 551.7 L319.0 551.1 L319.5 551.4 L320.0 552.2 L320.5 553.4 L321.0 554.9 L321.5 556.7 L322.0 559.0 L322.5 561.6 L323.0 564.5 L323.5 567.4 L324.0 570.3 L324.5 572.7 L325.0 574.6 L325.5 575.8 L326.0 576.0 L326.5 575.2 L327.0 573.2 L327.5 570.6 L328.0 567.7 L328.5 564.8 L329.0 562.4 L329.5 560.5 L330.0 559.2 L330.5 558.3 L331.0 557.9 L331.5 557.8 L332.0 557.7 L332.5 557.6 L333.0 557.5 L333.5 557.4 L334.0 557.3 L334.5 557.0 L335.0 556.2 L335.5 555.2 L336.0 554.0 L336.5 552.8 L337.0 551.5 L337.5 550.2 L338.0 549.1 L338.5 548.0 L339.0 547.2 L339.5 547.0 L340.0 547.6 L340.5 548.5 L341.0 549.7 L341.5 551.3 L342.0 553.3 L342.5 555.5 L343.0 557.9 L343.5 560.2 L344.0 562.2 L344.5 563.6 L345.0 564.4 L345.5 564.3 L346.0 563.2 L346.5 561.4 L347.0 559.2 L347.5 556.9 L348.0 554.9 L348.5 553.3 L349.0 552.1 L349.5 551.3 L350.0 551.1 L350.5 551.8 L351.0 553.0 L351.5 554.6 L352.0 556.8 L352.5 559.4 L353.0 562.4 L353.5 565.5 L354.0 568.3 L354.5 570.4 L355.0 571.5 L355.5 571.3 L356.0 569.8 L356.5 567.3 L357.0 564.4 L357.5 561.6 L358.0 559.4 L358.5 557.7 L359.0 556.7 L359.5 556.2 L360.0 556.8 L360.5 557.8 L361.0 559.3 L361.5 561.2 L362.0 563.0 L362.5 564.2 L363.0 564.4 L363.5 563.6 L364.0 562.2 L364.5 560.2 L365.0 557.9 L365.5 555.6 L366.0 553.6 L366.5 551.8 L367.0 550.4 L367.5 549.4 L368.0 548.7 L368.5 548.4 L369.0 548.9 L369.5 549.7 L370.0 551.0 L370.5 552.6 L371.0 554.4 L371.5 556.3 L372.0 557.8 L372.5 558.6 L373.0 558.5 L373.5 557.8 L374.0 556.4 L374.5 554.8 L375.0 552.9 L375.5 551.2 L376.0 549.7 L376.5 548.5 L377.0 547.6 L377.5 546.9 L378.0 546.5 L378.5 546.5 L379.0 546.5 L379.5 546.5 L380.0 546.5 L380.5 546.5 L381.0 546.5 L381.5 546.5 L382.0 546.5 L382.5 546.5 L383.0 546.5 L383.5 546.5 L384.0 546.5 L384.5 546.5 L385.0 546.5 L385.5 546.5 L386.0 546.5 L386.5 546.5 L387.0 546.5"/>
</g>
<path class="f" d="M59.00 404.45 h328.40 v284.20 h-328.40 Z M79.53 404.45 v16.70 M79.53 688.65 v-16.90 M105.18 404.45 v8.80 M105.18 688.65 v-8.00 M130.84 404.45 v16.70 M130.84 688.65 v-16.90 M156.49 404.45 v8.80 M156.49 688.65 v-8.00 M182.15 404.45 v16.70 M182.15 688.65 v-16.90 M207.81 404.45 v8.80 M207.81 688.65 v-8.00 M233.46 404.45 v16.70 M233.46 688.65 v-16.90 M259.12 404.45 v8.80 M259.12 688.65 v-8.00 M284.77 404.45 v16.70 M284.77 688.65 v-16.90 M310.43 404.45 v8.80 M310.43 688.65 v-8.00 M336.09 404.45 v16.70 M336.09 688.65 v-16.90 M361.74 404.45 v8.80 M361.74 688.65 v-8.00 M59.00 653.12 h7.80 M387.40 653.12 h-7.80 M59.00 617.60 h16.00 M387.40 617.60 h-16.00 M59.00 582.08 h7.80 M387.40 582.08 h-7.80 M59.00 546.55 h16.00 M387.40 546.55 h-16.00 M59.00 511.02 h7.80 M387.40 511.02 h-7.80 M59.00 475.50 h16.00 M387.40 475.50 h-16.00 M59.00 439.97 h7.80 M387.40 439.97 h-7.80"/>
<text class="ti" text-anchor="middle" x="222.8" y="387.3">COF-5<tspan dx="-1.4"> Serrated</tspan><tspan dx="-1.1"> a</tspan></text>
<rect x="64.59" y="705.60" width="7.0" height="1.9" fill="#000"/><text class="tk" x="71.48" y="713.25">20</text>
<rect x="115.90" y="705.60" width="7.0" height="1.9" fill="#000"/><text class="tk" x="122.79" y="713.25">15</text>
<rect x="167.21" y="705.60" width="7.0" height="1.9" fill="#000"/><text class="tk" x="174.10" y="713.25">10</text>
<rect x="224.69" y="705.60" width="7.0" height="1.9" fill="#000"/><text class="tk" x="231.59" y="713.25">5</text>
<text class="tk" x="279.20" y="713.25">0</text>
<text class="tk" x="330.52" y="713.25">5</text>
<rect x="32.56" y="688.40" width="7.0" height="1.9" fill="#000"/><text class="tk" x="39.46" y="696.05">4</text>
<rect x="32.56" y="617.35" width="7.0" height="1.9" fill="#000"/><text class="tk" x="39.46" y="625.00">2</text>
<text class="tk" x="39.46" y="553.95">0</text>
<text class="tk" x="39.46" y="482.90">2</text>
<text class="tk" x="39.46" y="411.85">4</text>
<text class="ax" text-anchor="middle" transform="translate(17.8 545.3) rotate(-90)">DOS [a.u.]</text>
<text class="ax" text-anchor="middle" x="224.4" y="737.5">E [eV]</text>
<clipPath id="cp361_368"><rect x="420.1" y="404.4" width="328.4" height="284.2"/></clipPath>
<g clip-path="url(#cp361_368)">
<path class="c" stroke="#000" d="M420.1 546.5 L420.6 546.5 L421.1 546.5 L421.6 546.5 L422.1 546.5 L422.6 546.5 L423.1 546.5 L423.6 546.3 L424.1 545.4 L424.6 544.1 L425.1 542.3 L425.6 540.0 L426.1 537.2 L426.6 533.9 L427.1 530.1 L427.6 526.1 L428.1 522.0 L428.6 518.0 L429.1 514.6 L429.6 512.0 L430.1 510.4 L430.6 510.1 L431.1 511.7 L431.6 515.1 L432.1 519.7 L432.6 524.8 L433.1 529.6 L433.6 534.0 L434.1 537.5 L434.6 540.2 L435.1 542.1 L435.6 542.6 L436.1 541.4 L436.6 539.4 L437.1 536.3 L437.6 531.9 L438.1 526.6 L438.6 520.8 L439.1 515.3 L439.6 510.8 L440.1 508.1 L440.6 507.5 L441.1 508.5 L441.6 510.8 L442.1 514.1 L442.6 518.5 L443.1 523.2 L443.6 527.9 L444.1 532.3 L444.6 536.3 L445.1 539.6 L445.6 542.3 L446.1 544.3 L446.6 545.6 L447.1 546.5 L447.6 546.5 L448.1 546.5 L448.6 546.5 L449.1 546.5 L449.6 546.5 L450.1 546.5 L450.6 546.5 L451.1 546.5 L451.6 546.5 L452.1 546.5 L452.6 546.5 L453.1 546.5 L453.6 546.5 L454.1 546.5 L454.6 546.5 L455.1 546.5 L455.6 546.5 L456.1 546.5 L456.6 546.5 L457.1 546.5 L457.6 546.5 L458.1 546.5 L458.6 546.5 L459.1 546.5 L459.6 546.5 L460.1 546.5 L460.6 546.5 L461.1 546.5 L461.6 546.5 L462.1 546.5 L462.6 546.5 L463.1 546.5 L463.6 546.5 L464.1 546.5 L464.6 546.5 L465.1 546.5 L465.6 546.5 L466.1 546.5 L466.6 546.5 L467.1 546.5 L467.6 546.5 L468.1 546.5 L468.6 546.5 L469.1 546.5 L469.6 546.5 L470.1 546.5 L470.6 546.5 L471.1 546.5 L471.6 546.5 L472.1 546.5 L472.6 546.5 L473.1 546.5 L473.6 546.5 L474.1 546.5 L474.6 546.5 L475.1 546.5 L475.6 546.5 L476.1 546.5 L476.6 546.1 L477.1 545.3 L477.6 544.1 L478.1 542.5 L478.6 540.7 L479.1 538.7 L479.6 537.0 L480.1 535.9 L480.6 535.7 L481.1 535.9 L481.6 536.2 L482.1 536.6 L482.6 536.8 L483.1 537.0 L483.6 537.0 L484.1 536.6 L484.6 535.8 L485.1 534.8 L485.6 533.4 L486.1 531.8 L486.6 529.9 L487.1 527.7 L487.6 525.3 L488.1 523.0 L488.6 520.8 L489.1 519.0 L489.6 517.8 L490.1 517.2 L490.6 517.7 L491.1 519.6 L491.6 522.5 L492.1 526.2 L492.6 530.2 L493.1 534.0 L493.6 537.5 L494.1 540.5 L494.6 542.8 L495.1 544.5 L495.6 545.7 L496.1 546.3 L496.6 546.3 L497.1 546.4 L497.6 546.5 L498.1 546.5 L498.6 546.5 L499.1 546.5 L499.6 546.5 L500.1 546.5 L500.6 546.5 L501.1 546.1 L501.6 544.7 L502.1 542.8 L502.6 540.2 L503.1 536.9 L503.6 532.8 L504.1 528.1 L504.6 522.9 L505.1 517.4 L505.6 511.9 L506.1 506.7 L506.6 502.2 L507.1 498.8 L507.6 496.7 L508.1 496.1 L508.6 496.7 L509.1 498.1 L509.6 500.2 L510.1 502.9 L510.6 506.0 L511.1 509.3 L511.6 512.8 L512.1 516.3 L512.6 519.6 L513.1 522.6 L513.6 525.3 L514.1 527.7 L514.6 529.7 L515.1 531.3 L515.6 532.5 L516.1 533.4 L516.6 534.1 L517.1 533.9 L517.6 533.0 L518.1 531.6 L518.6 529.6 L519.1 527.2 L519.6 524.7 L520.1 522.6 L520.6 521.4 L521.1 521.5 L521.6 522.9 L522.1 525.4 L522.6 528.6 L523.1 532.1 L523.6 535.6 L524.1 538.6 L524.6 541.2 L525.1 543.2 L525.6 544.6 L526.1 545.6 L526.6 545.9 L527.1 546.0 L527.6 546.0 L528.1 546.0 L528.6 546.0 L529.1 546.0 L529.6 546.0 L530.1 546.0 L530.6 546.0 L531.1 546.0 L531.6 545.3 L532.1 544.4 L532.6 543.3 L533.1 541.9 L533.6 540.2 L534.1 538.2 L534.6 535.9 L535.1 533.3 L535.6 530.4 L536.1 527.2 L536.6 523.8 L537.1 520.3 L537.6 516.8 L538.1 513.3 L538.6 510.0 L539.1 507.0 L539.6 504.5 L540.1 502.6 L540.6 501.2 L541.1 500.6 L541.6 500.7 L542.1 501.3 L542.6 502.4 L543.1 503.9 L543.6 505.8 L544.1 507.9 L544.6 510.1 L545.1 512.4 L545.6 514.7 L546.1 516.9 L546.6 519.0 L547.1 521.0 L547.6 522.8 L548.1 524.4 L548.6 525.7 L549.1 526.9 L549.6 527.8 L550.1 528.6 L550.6 528.5 L551.1 527.7 L551.6 526.0 L552.1 523.6 L552.6 520.6 L553.1 517.3 L553.6 514.1 L554.1 511.7 L554.6 510.4 L555.1 510.7 L555.6 512.8 L556.1 516.1 L556.6 520.2 L557.1 524.4 L557.6 528.1 L558.1 531.1 L558.6 533.3 L559.1 534.9 L559.6 535.2 L560.1 533.9 L560.6 531.4 L561.1 527.8 L561.6 522.9 L562.1 517.5 L562.6 512.8 L563.1 509.8 L563.6 509.3 L564.1 510.5 L564.6 512.8 L565.1 515.5 L565.6 517.9 L566.1 519.6 L566.6 520.6 L567.1 521.0 L567.6 520.3 L568.1 519.5 L568.6 518.5 L569.1 517.5 L569.6 516.4 L570.1 515.2 L570.6 514.0 L571.1 512.4 L571.6 510.5 L572.1 508.1 L572.6 504.9 L573.1 500.7 L573.6 495.7 L574.1 489.8 L574.6 483.3 L575.1 476.7 L575.6 470.5 L576.1 465.2 L576.6 460.4 L577.1 457.1 L577.6 456.0 L578.1 458.1 L578.6 463.2 L579.1 470.0 L579.6 477.7 L580.1 485.5 L580.6 492.9 L581.1 498.7 L581.6 503.1 L582.1 506.3 L582.6 506.7 L583.1 504.6 L583.6 500.6 L584.1 494.4 L584.6 486.6 L585.1 479.0 L585.6 473.6 L586.1 471.9 L586.6 475.1 L587.1 482.1 L587.6 491.3 L588.1 499.9 L588.6 506.7 L589.1 511.3 L589.6 514.2 L590.1 511.9 L590.6 507.9 L591.1 501.7 L591.6 493.0 L592.1 482.0 L592.6 469.4 L593.1 456.7 L593.6 445.0 L594.1 436.1 L594.6 431.8 L595.1 432.5 L595.6 437.5 L596.1 445.4 L596.6 454.3 L597.1 462.7 L597.6 470.9 L598.1 477.3 L598.6 482.0 L599.1 484.5 L599.6 485.0 L600.1 484.7 L600.6 483.4 L601.1 481.6 L601.6 479.7 L602.1 479.1 L602.6 480.2 L603.1 482.8 L603.6 486.8 L604.1 492.0 L604.6 498.5 L605.1 505.5 L605.6 512.3 L606.1 518.6 L606.6 524.4 L607.1 529.4 L607.6 533.6 L608.1 537.0 L608.6 539.8 L609.1 542.0 L609.6 543.3 L610.1 542.8 L610.6 541.9 L611.1 540.7 L611.6 538.9 L612.1 536.6 L612.6 533.9 L613.1 530.7 L613.6 527.1 L614.1 523.2 L614.6 519.1 L615.1 514.9 L615.6 510.7 L616.1 506.8 L616.6 503.6 L617.1 501.1 L617.6 499.5 L618.1 498.9 L618.6 499.2 L619.1 500.2 L619.6 502.0 L620.1 504.3 L620.6 507.2 L621.1 510.6 L621.6 514.2 L622.1 517.7 L622.6 521.0 L623.1 524.2 L623.6 527.0 L624.1 529.5 L624.6 531.6 L625.1 533.4 L625.6 534.9 L626.1 536.1 L626.6 537.1 L627.1 537.5 L627.6 536.7 L628.1 535.4 L628.6 533.4 L629.1 530.8 L629.6 527.9 L630.1 525.1 L630.6 523.2 L631.1 522.5 L631.6 523.0 L632.1 524.4 L632.6 526.6 L633.1 529.3 L633.6 532.6 L634.1 535.8 L634.6 538.7 L635.1 541.2 L635.6 543.3 L636.1 544.8 L636.6 545.9 L637.1 546.5 L637.6 546.5 L638.1 546.5 L638.6 546.5 L639.1 546.5 L639.6 546.5 L640.1 546.5 L640.6 546.5 L641.1 546.5 L641.6 546.5 L642.1 546.5 L642.6 546.5 L643.1 546.5 L643.6 546.5 L644.1 546.5 L644.6 546.5 L645.1 546.5 L645.6 546.5 L646.1 546.5 L646.6 546.5 L647.1 546.5 L647.6 546.5 L648.1 546.5 L648.6 546.5 L649.1 546.5 L649.6 546.5 L650.1 546.5 L650.6 546.5 L651.1 546.5 L651.6 546.5 L652.1 546.5 L652.6 546.5 L653.1 546.5 L653.6 546.5 L654.1 546.5 L654.6 546.5 L655.1 546.1 L655.6 545.4 L656.1 544.3 L656.6 542.8 L657.1 540.9 L657.6 538.7 L658.1 536.3 L658.6 533.7 L659.1 531.3 L659.6 529.5 L660.1 528.5 L660.6 528.5 L661.1 529.8 L661.6 531.9 L662.1 534.3 L662.6 536.8 L663.1 538.7 L663.6 540.0 L664.1 541.0 L664.6 540.6 L665.1 539.9 L665.6 538.7 L666.1 537.0 L666.6 534.7 L667.1 532.0 L667.6 528.9 L668.1 525.9 L668.6 523.6 L669.1 522.1 L669.6 521.7 L670.1 522.1 L670.6 522.8 L671.1 523.5 L671.6 523.9 L672.1 524.0 L672.6 523.6 L673.1 522.8 L673.6 521.7 L674.1 520.6 L674.6 520.1 L675.1 520.5 L675.6 522.0 L676.1 524.3 L676.6 527.0 L677.1 529.9 L677.6 532.9 L678.1 535.5 L678.6 537.8 L679.1 539.6 L679.6 541.0 L680.1 542.0 L680.6 542.0 L681.1 541.5 L681.6 540.6 L682.1 539.3 L682.6 537.3 L683.1 534.9 L683.6 532.0 L684.1 528.9 L684.6 525.7 L685.1 522.7 L685.6 519.9 L686.1 517.8 L686.6 516.4 L687.1 516.0 L687.6 516.6 L688.1 518.4 L688.6 521.2 L689.1 524.2 L689.6 527.1 L690.1 529.6 L690.6 531.7 L691.1 533.1 L691.6 534.2 L692.1 534.7 L692.6 535.0 L693.1 535.2 L693.6 535.4 L694.1 535.6 L694.6 535.8 L695.1 536.0 L695.6 536.3 L696.1 537.2 L696.6 538.3 L697.1 539.5 L697.6 540.8 L698.1 542.2 L698.6 543.5 L699.1 544.7 L699.6 545.8 L700.1 546.5 L700.6 546.5 L701.1 546.3 L701.6 545.5 L702.1 544.3 L702.6 542.8 L703.1 540.9 L703.6 538.7 L704.1 536.3 L704.6 533.8 L705.1 531.6 L705.6 529.8 L706.1 528.7 L706.6 528.5 L707.1 529.2 L707.6 530.7 L708.1 532.6 L708.6 534.6 L709.1 536.4 L709.6 538.2 L710.1 539.6 L710.6 540.7 L711.1 541.3 L711.6 540.9 L712.1 540.1 L712.6 538.8 L713.1 537.0 L713.6 534.5 L714.1 531.7 L714.6 528.5 L715.1 525.5 L715.6 523.1 L716.1 521.8 L716.6 521.6 L717.1 522.8 L717.6 525.0 L718.1 527.6 L718.6 530.2 L719.1 532.3 L719.6 534.2 L720.1 535.5 L720.6 536.3 L721.1 536.1 L721.6 535.5 L722.1 534.3 L722.6 532.7 L723.1 531.1 L723.6 529.8 L724.1 529.4 L724.6 529.9 L725.1 531.1 L725.6 532.8 L726.1 534.7 L726.6 536.7 L727.1 538.5 L727.6 540.0 L728.1 541.2 L728.6 542.3 L729.1 543.2 L729.6 543.6 L730.1 543.3 L730.6 542.7 L731.1 541.6 L731.6 540.2 L732.1 538.5 L732.6 536.7 L733.1 535.3 L733.6 534.5 L734.1 534.6 L734.6 535.3 L735.1 536.7 L735.6 538.3 L736.1 540.2 L736.6 541.9 L737.1 543.4 L737.6 544.6 L738.1 545.5 L738.6 546.2 L739.1 546.5 L739.6 546.5 L740.1 546.5 L740.6 546.5 L741.1 546.5 L741.6 546.5 L742.1 546.5 L742.6 546.5 L743.1 546.5 L743.6 546.5 L744.1 546.5 L744.6 546.5 L745.1 546.5 L745.6 546.5 L746.1 546.5 L746.6 546.5 L747.1 546.5 L747.6 546.5 L748.1 546.5"/>
<path class="c" stroke="#0f0" d="M420.1 546.5 L420.6 546.5 L421.1 546.5 L421.6 546.5 L422.1 546.5 L422.6 546.5 L423.1 546.5 L423.6 546.6 L424.1 546.7 L424.6 546.7 L425.1 546.8 L425.6 546.9 L426.1 547.0 L426.6 547.1 L427.1 547.2 L427.6 547.2 L428.1 547.3 L428.6 547.1 L429.1 546.9 L429.6 546.7 L430.1 546.5 L430.6 546.2 L431.1 545.9 L431.6 545.7 L432.1 545.5 L432.6 545.3 L433.1 545.1 L433.6 545.3 L434.1 545.6 L434.6 545.9 L435.1 546.2 L435.6 546.5 L436.1 546.8 L436.6 547.1 L437.1 547.3 L437.6 547.1 L438.1 546.9 L438.6 546.6 L439.1 546.3 L439.6 546.0 L440.1 545.7 L440.6 545.4 L441.1 545.2 L441.6 544.9 L442.1 544.8 L442.6 544.9 L443.1 545.1 L443.6 545.4 L444.1 545.7 L444.6 545.9 L445.1 546.2 L445.6 546.4 L446.1 546.5 L446.6 546.5 L447.1 546.5 L447.6 546.5 L448.1 546.5 L448.6 546.5 L449.1 546.5 L449.6 546.5 L450.1 546.5 L450.6 546.5 L451.1 546.5 L451.6 546.5 L452.1 546.5 L452.6 546.5 L453.1 546.5 L453.6 546.5 L454.1 546.5 L454.6 546.5 L455.1 546.5 L455.6 546.5 L456.1 546.5 L456.6 546.5 L457.1 546.5 L457.6 546.5 L458.1 546.5 L458.6 546.5 L459.1 546.5 L459.6 546.5 L460.1 546.5 L460.6 546.5 L461.1 546.5 L461.6 546.5 L462.1 546.5 L462.6 546.5 L463.1 546.5 L463.6 546.5 L464.1 546.5 L464.6 546.5 L465.1 546.5 L465.6 546.5 L466.1 546.5 L466.6 546.5 L467.1 546.5 L467.6 546.5 L468.1 546.5 L468.6 546.5 L469.1 546.5 L469.6 546.5 L470.1 546.5 L470.6 546.5 L471.1 546.5 L471.6 546.5 L472.1 546.5 L472.6 546.5 L473.1 546.5 L473.6 546.5 L474.1 546.5 L474.6 546.5 L475.1 546.5 L475.6 546.5 L476.1 546.5 L476.6 546.5 L477.1 546.5 L477.6 546.6 L478.1 546.7 L478.6 546.8 L479.1 546.9 L479.6 547.0 L480.1 547.1 L480.6 547.2 L481.1 547.3 L481.6 547.4 L482.1 547.5 L482.6 547.6 L483.1 547.6 L483.6 547.5 L484.1 547.4 L484.6 547.3 L485.1 547.1 L485.6 546.9 L486.1 546.7 L486.6 546.5 L487.1 546.4 L487.6 546.2 L488.1 546.0 L488.6 545.8 L489.1 545.7 L489.6 545.6 L490.1 545.5 L490.6 545.6 L491.1 545.7 L491.6 545.8 L492.1 546.0 L492.6 546.1 L493.1 546.3 L493.6 546.5 L494.1 546.7 L494.6 546.8 L495.1 547.0 L495.6 547.1 L496.1 547.3 L496.6 547.3 L497.1 547.4 L497.6 547.5 L498.1 547.5 L498.6 547.6 L499.1 547.7 L499.6 547.7 L500.1 547.8 L500.6 547.9 L501.1 547.9 L501.6 547.9 L502.1 548.0 L502.6 547.8 L503.1 547.6 L503.6 547.3 L504.1 547.0 L504.6 546.7 L505.1 546.4 L505.6 546.0 L506.1 545.7 L506.6 545.4 L507.1 545.2 L507.6 544.9 L508.1 544.8 L508.6 544.9 L509.1 544.9 L509.6 545.1 L510.1 545.2 L510.6 545.3 L511.1 545.5 L511.6 545.7 L512.1 545.8 L512.6 546.0 L513.1 546.1 L513.6 546.3 L514.1 546.4 L514.6 546.5 L515.1 546.5 L515.6 546.5 L516.1 546.4 L516.6 546.3 L517.1 546.2 L517.6 546.1 L518.1 546.0 L518.6 545.9 L519.1 545.8 L519.6 545.7 L520.1 545.6 L520.6 545.5 L521.1 545.5 L521.6 545.5 L522.1 545.6 L522.6 545.7 L523.1 545.8 L523.6 545.9 L524.1 546.0 L524.6 546.1 L525.1 546.2 L525.6 546.3 L526.1 546.4 L526.6 546.5 L527.1 546.5 L527.6 546.5 L528.1 546.5 L528.6 546.5 L529.1 546.5 L529.6 546.5 L530.1 546.5 L530.6 546.5 L531.1 546.5 L531.6 546.5 L532.1 546.5 L532.6 546.5 L533.1 546.5 L533.6 546.5 L534.1 546.5 L534.6 546.5 L535.1 546.5 L535.6 546.5 L536.1 546.5 L536.6 546.5 L537.1 546.5 L537.6 546.5 L538.1 546.5 L538.6 546.5 L539.1 546.4 L539.6 546.3 L540.1 546.2 L540.6 546.1 L541.1 546.0 L541.6 545.9 L542.1 545.8 L542.6 545.7 L543.1 545.6 L543.6 545.5 L544.1 545.4 L544.6 545.3 L545.1 545.2 L545.6 545.2 L546.1 545.1 L546.6 545.3 L547.1 545.5 L547.6 545.7 L548.1 545.9 L548.6 546.2 L549.1 546.5 L549.6 546.7 L550.1 546.9 L550.6 547.1 L551.1 547.3 L551.6 547.1 L552.1 546.9 L552.6 546.7 L553.1 546.5 L553.6 546.2 L554.1 545.9 L554.6 545.7 L555.1 545.5 L555.6 545.3 L556.1 545.1 L556.6 545.3 L557.1 545.5 L557.6 545.7 L558.1 545.9 L558.6 546.2 L559.1 546.5 L559.6 546.7 L560.1 546.9 L560.6 547.1 L561.1 547.3 L561.6 547.2 L562.1 547.0 L562.6 546.8 L563.1 546.7 L563.6 546.5 L564.1 546.2 L564.6 546.0 L565.1 545.8 L565.6 545.7 L566.1 545.5 L566.6 545.4 L567.1 545.2 L567.6 545.1 L568.1 545.0 L568.6 544.9 L569.1 544.8 L569.6 544.7 L570.1 544.6 L570.6 544.5 L571.1 544.4 L571.6 544.8 L572.1 545.5 L572.6 546.3 L573.1 547.3 L573.6 548.3 L574.1 549.3 L574.6 550.3 L575.1 551.2 L575.6 551.9 L576.1 552.5 L576.6 551.9 L577.1 550.6 L577.6 549.0 L578.1 547.3 L578.6 545.6 L579.1 544.0 L579.6 542.8 L580.1 542.4 L580.6 542.9 L581.1 543.5 L581.6 544.2 L582.1 545.0 L582.6 545.7 L583.1 546.3 L583.6 546.8 L584.1 546.8 L584.6 546.5 L585.1 546.1 L585.6 545.7 L586.1 545.3 L586.6 545.0 L587.1 544.8 L587.6 545.1 L588.1 545.6 L588.6 546.2 L589.1 546.8 L589.6 547.5 L590.1 548.2 L590.6 548.9 L591.1 549.6 L591.6 550.2 L592.1 550.8 L592.6 551.4 L593.1 551.8 L593.6 551.4 L594.1 550.1 L594.6 548.6 L595.1 546.8 L595.6 545.0 L596.1 543.4 L596.6 542.0 L597.1 541.0 L597.6 541.8 L598.1 542.9 L598.6 544.3 L599.1 545.7 L599.6 547.1 L600.1 548.4 L600.6 549.5 L601.1 550.0 L601.6 549.2 L602.1 548.2 L602.6 546.9 L603.1 545.7 L603.6 544.6 L604.1 543.8 L604.6 543.6 L605.1 543.9 L605.6 544.2 L606.1 544.5 L606.6 544.9 L607.1 545.3 L607.6 545.7 L608.1 546.2 L608.6 546.6 L609.1 547.0 L609.6 547.4 L610.1 547.8 L610.6 548.1 L611.1 548.4 L611.6 548.6 L612.1 548.7 L612.6 548.8 L613.1 548.8 L613.6 548.9 L614.1 549.0 L614.6 549.0 L615.1 548.9 L615.6 548.6 L616.1 548.2 L616.6 547.8 L617.1 547.4 L617.6 546.9 L618.1 546.4 L618.6 546.0 L619.1 545.6 L619.6 545.2 L620.1 544.9 L620.6 544.8 L621.1 544.9 L621.6 545.0 L622.1 545.1 L622.6 545.3 L623.1 545.4 L623.6 545.6 L624.1 545.7 L624.6 545.9 L625.1 546.1 L625.6 546.2 L626.1 546.4 L626.6 546.6 L627.1 546.8 L627.6 547.0 L628.1 547.2 L628.6 547.3 L629.1 547.5 L629.6 547.6 L630.1 547.4 L630.6 547.1 L631.1 546.6 L631.6 546.2 L632.1 545.8 L632.6 545.4 L633.1 545.1 L633.6 545.3 L634.1 545.5 L634.6 545.8 L635.1 546.0 L635.6 546.3 L636.1 546.5 L636.6 546.5 L637.1 546.5 L637.6 546.5 L638.1 546.5 L638.6 546.5 L639.1 546.5 L639.6 546.5 L640.1 546.5 L640.6 546.5 L641.1 546.5 L641.6 546.5 L642.1 546.5 L642.6 546.5 L643.1 546.5 L643.6 546.5 L644.1 546.5 L644.6 546.5 L645.1 546.5 L645.6 546.5 L646.1 546.5 L646.6 546.5 L647.1 546.5 L647.6 546.5 L648.1 546.5 L648.6 546.5 L649.1 546.5 L649.6 546.5 L650.1 546.5 L650.6 546.5 L651.1 546.5 L651.6 546.5 L652.1 546.5 L652.6 546.5 L653.1 546.5 L653.6 546.5 L654.1 546.5 L654.6 546.6 L655.1 546.8 L655.6 546.9 L656.1 547.1 L656.6 547.2 L657.1 547.4 L657.6 547.5 L658.1 547.6 L658.6 547.4 L659.1 547.1 L659.6 546.8 L660.1 546.4 L660.6 546.0 L661.1 545.6 L661.6 545.3 L662.1 545.1 L662.6 545.3 L663.1 545.5 L663.6 545.8 L664.1 546.1 L664.6 546.4 L665.1 546.7 L665.6 547.0 L666.1 547.2 L666.6 547.5 L667.1 547.6 L667.6 547.5 L668.1 547.3 L668.6 547.1 L669.1 546.9 L669.6 546.6 L670.1 546.4 L670.6 546.1 L671.1 545.9 L671.6 545.7 L672.1 545.5 L672.6 545.4 L673.1 545.3 L673.6 545.2 L674.1 545.1 L674.6 545.1 L675.1 545.0 L675.6 544.9 L676.1 544.9 L676.6 544.8 L677.1 544.8 L677.6 545.0 L678.1 545.2 L678.6 545.5 L679.1 545.8 L679.6 546.2 L680.1 546.5 L680.6 546.9 L681.1 547.2 L681.6 547.4 L682.1 547.6 L682.6 547.5 L683.1 547.3 L683.6 547.1 L684.1 546.9 L684.6 546.6 L685.1 546.4 L685.6 546.1 L686.1 545.9 L686.6 545.6 L687.1 545.4 L687.6 545.3 L688.1 545.1 L688.6 545.2 L689.1 545.3 L689.6 545.4 L690.1 545.5 L690.6 545.6 L691.1 545.8 L691.6 545.9 L692.1 546.1 L692.6 546.2 L693.1 546.3 L693.6 546.4 L694.1 546.5 L694.6 546.6 L695.1 546.7 L695.6 546.8 L696.1 546.9 L696.6 546.9 L697.1 547.0 L697.6 547.1 L698.1 547.1 L698.6 547.2 L699.1 547.3 L699.6 547.3 L700.1 547.3 L700.6 547.4 L701.1 547.4 L701.6 547.5 L702.1 547.5 L702.6 547.5 L703.1 547.6 L703.6 547.6 L704.1 547.6 L704.6 547.4 L705.1 547.2 L705.6 546.9 L706.1 546.5 L706.6 546.2 L707.1 545.8 L707.6 545.5 L708.1 545.2 L708.6 545.0 L709.1 544.8 L709.6 545.0 L710.1 545.2 L710.6 545.5 L711.1 545.8 L711.6 546.2 L712.1 546.5 L712.6 546.9 L713.1 547.2 L713.6 547.4 L714.1 547.6 L714.6 547.5 L715.1 547.2 L715.6 547.0 L716.1 546.7 L716.6 546.4 L717.1 546.1 L717.6 545.8 L718.1 545.5 L718.6 545.3 L719.1 545.1 L719.6 545.3 L720.1 545.6 L720.6 546.0 L721.1 546.4 L721.6 546.8 L722.1 547.1 L722.6 547.4 L723.1 547.6 L723.6 547.5 L724.1 547.2 L724.6 547.0 L725.1 546.7 L725.6 546.4 L726.1 546.1 L726.6 545.8 L727.1 545.5 L727.6 545.3 L728.1 545.1 L728.6 545.2 L729.1 545.3 L729.6 545.5 L730.1 545.7 L730.6 545.8 L731.1 546.0 L731.6 546.2 L732.1 546.3 L732.6 546.5 L733.1 546.5 L733.6 546.5 L734.1 546.5 L734.6 546.5 L735.1 546.5 L735.6 546.5 L736.1 546.5 L736.6 546.5 L737.1 546.5 L737.6 546.5 L738.1 546.5 L738.6 546.5 L739.1 546.5 L739.6 546.5 L740.1 546.5 L740.6 546.5 L741.1 546.5 L741.6 546.5 L742.1 546.5 L742.6 546.5 L743.1 546.5 L743.6 546.5 L744.1 546.5 L744.6 546.5 L745.1 546.5 L745.6 546.5 L746.1 546.5 L746.6 546.5 L747.1 546.5 L747.6 546.5 L748.1 546.5"/>
<path class="c" stroke="#f00" d="M420.1 546.5 L420.6 546.5 L421.1 546.5 L421.6 546.5 L422.1 546.5 L422.6 546.5 L423.1 546.5 L423.6 546.9 L424.1 547.8 L424.6 549.2 L425.1 551.1 L425.6 553.4 L426.1 556.3 L426.6 559.7 L427.1 563.6 L427.6 567.7 L428.1 571.8 L428.6 575.6 L429.1 578.9 L429.6 581.3 L430.1 582.6 L430.6 582.7 L431.1 580.8 L431.6 577.1 L432.1 572.3 L432.6 567.1 L433.1 562.1 L433.6 557.9 L434.1 554.6 L434.6 552.2 L435.1 550.7 L435.6 550.5 L436.1 552.0 L436.6 554.2 L437.1 557.5 L437.6 561.8 L438.1 566.9 L438.6 572.3 L439.1 577.6 L439.6 581.7 L440.1 584.1 L440.6 584.4 L441.1 583.2 L441.6 580.7 L442.1 577.2 L442.6 573.0 L443.1 568.5 L443.6 564.0 L444.1 559.9 L444.6 556.2 L445.1 553.1 L445.6 550.7 L446.1 548.8 L446.6 547.5 L447.1 546.5 L447.6 546.5 L448.1 546.5 L448.6 546.5 L449.1 546.5 L449.6 546.5 L450.1 546.5 L450.6 546.5 L451.1 546.5 L451.6 546.5 L452.1 546.5 L452.6 546.5 L453.1 546.5 L453.6 546.5 L454.1 546.5 L454.6 546.5 L455.1 546.5 L455.6 546.5 L456.1 546.5 L456.6 546.5 L457.1 546.5 L457.6 546.5 L458.1 546.5 L458.6 546.5 L459.1 546.5 L459.6 546.5 L460.1 546.5 L460.6 546.5 L461.1 546.5 L461.6 546.5 L462.1 546.5 L462.6 546.5 L463.1 546.5 L463.6 546.5 L464.1 546.5 L464.6 546.5 L465.1 546.5 L465.6 546.5 L466.1 546.5 L466.6 546.5 L467.1 546.5 L467.6 546.5 L468.1 546.5 L468.6 546.5 L469.1 546.5 L469.6 546.5 L470.1 546.5 L470.6 546.5 L471.1 546.5 L471.6 546.5 L472.1 546.5 L472.6 546.5 L473.1 546.5 L473.6 546.5 L474.1 546.5 L474.6 546.5 L475.1 546.5 L475.6 546.5 L476.1 546.5 L476.6 547.0 L477.1 547.8 L477.6 549.0 L478.1 550.7 L478.6 552.7 L479.1 554.7 L479.6 556.5 L480.1 557.7 L480.6 558.0 L481.1 557.9 L481.6 557.7 L482.1 557.5 L482.6 557.3 L483.1 557.1 L483.6 557.1 L484.1 557.4 L484.6 558.0 L485.1 558.9 L485.6 560.0 L486.1 561.5 L486.6 563.2 L487.1 565.3 L487.6 567.4 L488.1 569.6 L488.6 571.6 L489.1 573.2 L489.6 574.4 L490.1 574.8 L490.6 574.4 L491.1 572.7 L491.6 569.9 L492.1 566.3 L492.6 562.5 L493.1 558.8 L493.6 555.5 L494.1 552.8 L494.6 550.6 L495.1 549.1 L495.6 548.0 L496.1 547.5 L496.6 547.5 L497.1 547.5 L497.6 547.5 L498.1 547.5 L498.6 547.5 L499.1 547.5 L499.6 547.5 L500.1 547.5 L500.6 547.5 L501.1 548.4 L501.6 549.8 L502.1 551.7 L502.6 554.2 L503.1 557.3 L503.6 561.1 L504.1 565.5 L504.6 570.4 L505.1 575.5 L505.6 580.7 L506.1 585.6 L506.6 589.7 L507.1 592.9 L507.6 594.8 L508.1 595.2 L508.6 594.7 L509.1 593.4 L509.6 591.4 L510.1 588.9 L510.6 585.9 L511.1 582.7 L511.6 579.4 L512.1 576.1 L512.6 572.9 L513.1 570.1 L513.6 567.5 L514.1 565.2 L514.6 563.3 L515.1 561.8 L515.6 560.5 L516.1 559.5 L516.6 558.8 L517.1 558.9 L517.6 559.7 L518.1 561.0 L518.6 562.9 L519.1 565.2 L519.6 567.6 L520.1 569.6 L520.6 570.6 L521.1 570.5 L521.6 569.1 L522.1 566.7 L522.6 563.6 L523.1 560.2 L523.6 556.9 L524.1 553.9 L524.6 551.5 L525.1 549.6 L525.6 548.3 L526.1 547.4 L526.6 547.1 L527.1 547.1 L527.6 547.1 L528.1 547.1 L528.6 547.1 L529.1 547.1 L529.6 547.1 L530.1 547.1 L530.6 547.1 L531.1 547.1 L531.6 547.8 L532.1 548.7 L532.6 549.8 L533.1 551.2 L533.6 552.9 L534.1 554.9 L534.6 557.2 L535.1 559.8 L535.6 562.7 L536.1 565.9 L536.6 569.3 L537.1 572.8 L537.6 576.3 L538.1 579.8 L538.6 583.0 L539.1 585.9 L539.6 588.3 L540.1 590.2 L540.6 591.4 L541.1 591.9 L541.6 591.8 L542.1 591.1 L542.6 589.9 L543.1 588.3 L543.6 586.3 L544.1 584.1 L544.6 581.7 L545.1 579.3 L545.6 577.0 L546.1 574.8 L546.6 572.8 L547.1 571.0 L547.6 569.4 L548.1 568.1 L548.6 567.0 L549.1 566.1 L549.6 565.4 L550.1 564.9 L550.6 565.1 L551.1 566.1 L551.6 567.7 L552.1 569.9 L552.6 572.6 L553.1 575.7 L553.6 578.6 L554.1 580.8 L554.6 581.8 L555.1 581.3 L555.6 579.1 L556.1 575.6 L556.6 571.6 L557.1 567.6 L557.6 564.1 L558.1 561.3 L558.6 559.4 L559.1 558.1 L559.6 558.1 L560.1 559.6 L560.6 562.2 L561.1 566.0 L561.6 570.8 L562.1 576.0 L562.6 580.6 L563.1 583.4 L563.6 583.7 L564.1 582.3 L564.6 579.8 L565.1 576.9 L565.6 574.3 L566.1 572.5 L566.6 571.3 L567.1 570.8 L567.6 571.4 L568.1 572.1 L568.6 572.9 L569.1 573.8 L569.6 574.9 L570.1 575.9 L570.6 577.0 L571.1 578.6 L571.6 580.9 L572.1 584.0 L572.6 588.0 L573.1 593.1 L573.6 599.2 L574.1 606.1 L574.6 613.5 L575.1 621.0 L575.6 628.0 L576.1 633.8 L576.6 638.0 L577.1 640.1 L577.6 639.6 L578.1 635.7 L578.6 629.0 L579.1 620.5 L579.6 611.7 L580.1 603.5 L580.6 596.6 L581.1 591.3 L581.6 587.6 L582.1 585.2 L582.6 585.5 L583.1 588.2 L583.6 592.7 L584.1 599.0 L584.6 606.4 L585.1 613.7 L585.6 618.7 L586.1 619.9 L586.6 616.5 L587.1 609.2 L587.6 600.4 L588.1 592.2 L588.6 586.0 L589.1 582.0 L589.6 579.8 L590.1 582.8 L590.6 587.5 L591.1 594.4 L591.6 603.8 L592.1 615.4 L592.6 628.5 L593.1 641.6 L593.6 652.9 L594.1 660.6 L594.6 663.3 L595.1 660.9 L595.6 654.1 L596.1 644.6 L596.6 634.3 L597.1 624.9 L597.6 617.4 L598.1 612.2 L598.6 608.8 L599.1 607.8 L599.6 608.7 L600.1 610.3 L600.6 612.7 L601.1 614.9 L601.6 616.1 L602.1 615.6 L602.6 613.3 L603.1 609.5 L603.6 604.3 L604.1 598.3 L604.6 591.7 L605.1 585.0 L605.6 578.5 L606.1 572.5 L606.6 567.1 L607.1 562.5 L607.6 558.7 L608.1 555.7 L608.6 553.4 L609.1 551.6 L609.6 550.7 L610.1 551.6 L610.6 552.8 L611.1 554.3 L611.6 556.2 L612.1 558.6 L612.6 561.4 L613.1 564.7 L613.6 568.3 L614.1 572.3 L614.6 576.4 L615.1 580.5 L615.6 584.5 L616.1 587.9 L616.6 590.8 L617.1 592.8 L617.6 594.0 L618.1 594.1 L618.6 593.4 L619.1 591.9 L619.6 589.8 L620.1 587.2 L620.6 584.1 L621.1 580.8 L621.6 577.4 L622.1 574.0 L622.6 570.8 L623.1 567.8 L623.6 565.1 L624.1 562.8 L624.6 560.8 L625.1 559.2 L625.6 557.9 L626.1 556.8 L626.6 556.0 L627.1 555.9 L627.6 556.8 L628.1 558.3 L628.6 560.5 L629.1 563.2 L629.6 566.2 L630.1 568.9 L630.6 570.5 L631.1 570.7 L631.6 569.7 L632.1 567.9 L632.6 565.4 L633.1 562.4 L633.6 559.3 L634.1 556.3 L634.6 553.6 L635.1 551.3 L635.6 549.5 L636.1 548.2 L636.6 547.2 L637.1 546.5 L637.6 546.5 L638.1 546.5 L638.6 546.5 L639.1 546.5 L639.6 546.5 L640.1 546.5 L640.6 546.5 L641.1 546.5 L641.6 546.5 L642.1 546.5 L642.6 546.5 L643.1 546.5 L643.6 546.5 L644.1 546.5 L644.6 546.5 L645.1 546.5 L645.6 546.5 L646.1 546.5 L646.6 546.5 L647.1 546.5 L647.6 546.5 L648.1 546.5 L648.6 546.5 L649.1 546.5 L649.6 546.5 L650.1 546.5 L650.6 546.5 L651.1 546.5 L651.6 546.5 L652.1 546.5 L652.6 546.5 L653.1 546.5 L653.6 546.5 L654.1 546.5 L654.6 546.6 L655.1 547.2 L655.6 548.1 L656.1 549.4 L656.6 551.0 L657.1 553.0 L657.6 555.4 L658.1 557.9 L658.6 560.3 L659.1 562.4 L659.6 563.8 L660.1 564.4 L660.6 564.0 L661.1 562.4 L661.6 559.9 L662.1 557.3 L662.6 555.1 L663.1 553.4 L663.6 552.3 L664.1 551.6 L664.6 552.3 L665.1 553.3 L665.6 554.8 L666.1 556.8 L666.6 559.3 L667.1 562.2 L667.6 565.1 L668.1 567.9 L668.6 570.1 L669.1 571.3 L669.6 571.5 L670.1 570.8 L670.6 569.8 L671.1 568.9 L671.6 568.3 L672.1 568.0 L672.6 568.4 L673.1 569.1 L673.6 570.1 L674.1 571.1 L674.6 571.5 L675.1 571.0 L675.6 569.5 L676.1 567.1 L676.6 564.4 L677.1 561.4 L677.6 558.6 L678.1 556.2 L678.6 554.3 L679.1 552.8 L679.6 551.7 L680.1 551.1 L680.6 551.4 L681.1 552.2 L681.6 553.4 L682.1 554.9 L682.6 556.7 L683.1 559.0 L683.6 561.6 L684.1 564.5 L684.6 567.4 L685.1 570.3 L685.6 572.7 L686.1 574.6 L686.6 575.8 L687.1 576.0 L687.6 575.2 L688.1 573.2 L688.6 570.6 L689.1 567.7 L689.6 564.8 L690.1 562.4 L690.6 560.5 L691.1 559.2 L691.6 558.3 L692.1 557.9 L692.6 557.8 L693.1 557.7 L693.6 557.6 L694.1 557.5 L694.6 557.4 L695.1 557.3 L695.6 557.0 L696.1 556.2 L696.6 555.2 L697.1 554.0 L697.6 552.8 L698.1 551.5 L698.6 550.2 L699.1 549.1 L699.6 548.0 L700.1 547.2 L700.6 547.0 L701.1 547.6 L701.6 548.5 L702.1 549.7 L702.6 551.3 L703.1 553.3 L703.6 555.5 L704.1 557.9 L704.6 560.2 L705.1 562.2 L705.6 563.6 L706.1 564.4 L706.6 564.3 L707.1 563.2 L707.6 561.4 L708.1 559.2 L708.6 556.9 L709.1 554.9 L709.6 553.3 L710.1 552.1 L710.6 551.3 L711.1 551.1 L711.6 551.8 L712.1 553.0 L712.6 554.6 L713.1 556.8 L713.6 559.4 L714.1 562.4 L714.6 565.5 L715.1 568.3 L715.6 570.4 L716.1 571.5 L716.6 571.3 L717.1 569.8 L717.6 567.3 L718.1 564.4 L718.6 561.6 L719.1 559.4 L719.6 557.7 L720.1 556.7 L720.6 556.2 L721.1 556.8 L721.6 557.8 L722.1 559.3 L722.6 561.2 L723.1 563.0 L723.6 564.2 L724.1 564.4 L724.6 563.6 L725.1 562.2 L725.6 560.2 L726.1 557.9 L726.6 555.6 L727.1 553.6 L727.6 551.8 L728.1 550.4 L728.6 549.4 L729.1 548.7 L729.6 548.4 L730.1 548.9 L730.6 549.7 L731.1 551.0 L731.6 552.6 L732.1 554.4 L732.6 556.3 L733.1 557.8 L733.6 558.6 L734.1 558.5 L734.6 557.8 L735.1 556.4 L735.6 554.8 L736.1 552.9 L736.6 551.2 L737.1 549.7 L737.6 548.5 L738.1 547.6 L738.6 546.9 L739.1 546.5 L739.6 546.5 L740.1 546.5 L740.6 546.5 L741.1 546.5 L741.6 546.5 L742.1 546.5 L742.6 546.5 L743.1 546.5 L743.6 546.5 L744.1 546.5 L744.6 546.5 L745.1 546.5 L745.6 546.5 L746.1 546.5 L746.6 546.5 L747.1 546.5 L747.6 546.5 L748.1 546.5"/>
</g>
<path class="f" d="M420.10 404.45 h328.40 v284.20 h-328.40 Z M440.62 404.45 v16.70 M440.62 688.65 v-16.90 M466.28 404.45 v8.80 M466.28 688.65 v-8.00 M491.94 404.45 v16.70 M491.94 688.65 v-16.90 M517.59 404.45 v8.80 M517.59 688.65 v-8.00 M543.25 404.45 v16.70 M543.25 688.65 v-16.90 M568.91 404.45 v8.80 M568.91 688.65 v-8.00 M594.56 404.45 v16.70 M594.56 688.65 v-16.90 M620.22 404.45 v8.80 M620.22 688.65 v-8.00 M645.88 404.45 v16.70 M645.88 688.65 v-16.90 M671.53 404.45 v8.80 M671.53 688.65 v-8.00 M697.19 404.45 v16.70 M697.19 688.65 v-16.90 M722.84 404.45 v8.80 M722.84 688.65 v-8.00 M420.10 653.12 h7.80 M748.50 653.12 h-7.80 M420.10 617.60 h16.00 M748.50 617.60 h-16.00 M420.10 582.08 h7.80 M748.50 582.08 h-7.80 M420.10 546.55 h16.00 M748.50 546.55 h-16.00 M420.10 511.02 h7.80 M748.50 511.02 h-7.80 M420.10 475.50 h16.00 M748.50 475.50 h-16.00 M420.10 439.97 h7.80 M748.50 439.97 h-7.80"/>
<text class="ti" text-anchor="middle" x="583.9" y="387.3">COF-5<tspan dx="-1.1"> Inclined</tspan><tspan dx="-2.8"> a</tspan></text>
<rect x="425.69" y="705.60" width="7.0" height="1.9" fill="#000"/><text class="tk" x="432.58" y="713.25">20</text>
<rect x="477.00" y="705.60" width="7.0" height="1.9" fill="#000"/><text class="tk" x="483.89" y="713.25">15</text>
<rect x="528.31" y="705.60" width="7.0" height="1.9" fill="#000"/><text class="tk" x="535.20" y="713.25">10</text>
<rect x="585.79" y="705.60" width="7.0" height="1.9" fill="#000"/><text class="tk" x="592.69" y="713.25">5</text>
<text class="tk" x="640.30" y="713.25">0</text>
<text class="tk" x="691.62" y="713.25">5</text>
<rect x="756.90" y="688.40" width="7.0" height="1.9" fill="#000"/><text class="tk" x="763.79" y="696.05">4</text>
<rect x="756.90" y="617.35" width="7.0" height="1.9" fill="#000"/><text class="tk" x="763.79" y="625.00">2</text>
<text class="tk" x="756.40" y="553.95">0</text>
<text class="tk" x="756.40" y="482.90">2</text>
<text class="tk" x="756.40" y="411.85">4</text>
<text class="ax" text-anchor="middle" x="585.5" y="737.5">E [eV]</text>
</svg></body></html>
